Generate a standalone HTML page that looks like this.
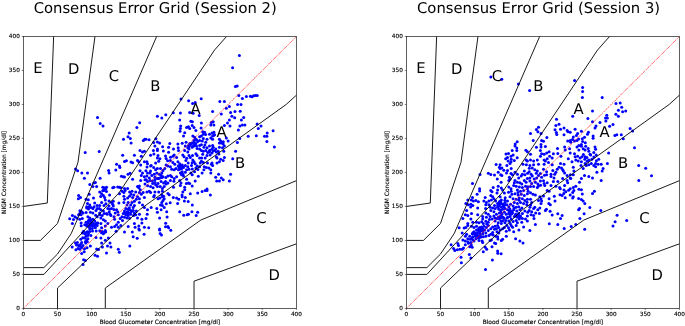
<!DOCTYPE html><html><head><meta charset="utf-8"><title>Consensus Error Grid</title>
<style>html,body{margin:0;padding:0;background:#fff}svg{display:block;will-change:transform}text{font-family:"DejaVu Sans","Liberation Sans",sans-serif;fill:#000;text-rendering:geometricPrecision}.s{stroke:#000;stroke-width:0.14px}</style></head><body>
<svg width="685" height="326" viewBox="0 0 685 326">
<rect width="685" height="326" fill="#fff"/>
<clipPath id="c0"><rect x="23.4" y="36.5" width="273.0" height="271.9"/></clipPath>
<g clip-path="url(#c0)">
<g fill="#0000ff">
<circle cx="239.4" cy="55.4" r="1.5"/>
<circle cx="232.6" cy="67.8" r="1.5"/>
<circle cx="235.4" cy="86.6" r="1.5"/>
<circle cx="237.2" cy="86.0" r="1.5"/>
<circle cx="238.8" cy="95.4" r="1.5"/>
<circle cx="242.4" cy="98.4" r="1.5"/>
<circle cx="246.4" cy="96.4" r="1.5"/>
<circle cx="250.4" cy="96.2" r="1.5"/>
<circle cx="252.0" cy="96.8" r="1.5"/>
<circle cx="253.6" cy="95.8" r="1.5"/>
<circle cx="255.4" cy="95.4" r="1.5"/>
<circle cx="257.2" cy="95.4" r="1.5"/>
<circle cx="188.6" cy="100.8" r="1.5"/>
<circle cx="192.6" cy="103.6" r="1.5"/>
<circle cx="195.2" cy="102.6" r="1.5"/>
<circle cx="201.2" cy="98.8" r="1.5"/>
<circle cx="219.8" cy="101.4" r="1.5"/>
<circle cx="224.4" cy="101.6" r="1.5"/>
<circle cx="237.6" cy="104.4" r="1.5"/>
<circle cx="241.0" cy="104.4" r="1.5"/>
<circle cx="181.0" cy="99.0" r="1.5"/>
<circle cx="72.2" cy="247.0" r="1.5"/>
<circle cx="75.5" cy="243.0" r="1.5"/>
<circle cx="77.4" cy="242.4" r="1.5"/>
<circle cx="76.5" cy="244.9" r="1.5"/>
<circle cx="78.6" cy="245.5" r="1.5"/>
<circle cx="80.5" cy="244.6" r="1.5"/>
<circle cx="75.9" cy="249.8" r="1.5"/>
<circle cx="78.0" cy="248.6" r="1.5"/>
<circle cx="79.8" cy="249.2" r="1.5"/>
<circle cx="81.7" cy="247.4" r="1.5"/>
<circle cx="83.0" cy="245.5" r="1.5"/>
<circle cx="80.8" cy="239.3" r="1.5"/>
<circle cx="81.7" cy="242.4" r="1.5"/>
<circle cx="84.8" cy="238.1" r="1.5"/>
<circle cx="86.7" cy="239.9" r="1.5"/>
<circle cx="87.9" cy="238.7" r="1.5"/>
<circle cx="85.4" cy="241.8" r="1.5"/>
<circle cx="87.3" cy="241.8" r="1.5"/>
<circle cx="82.3" cy="233.1" r="1.5"/>
<circle cx="83.6" cy="231.2" r="1.5"/>
<circle cx="86.7" cy="231.9" r="1.5"/>
<circle cx="88.5" cy="233.7" r="1.5"/>
<circle cx="89.8" cy="231.5" r="1.5"/>
<circle cx="92.5" cy="231.0" r="1.5"/>
<circle cx="96.2" cy="231.0" r="1.5"/>
<circle cx="87.9" cy="235.6" r="1.5"/>
<circle cx="86.0" cy="236.2" r="1.5"/>
<circle cx="96.0" cy="237.4" r="1.5"/>
<circle cx="100.9" cy="238.1" r="1.5"/>
<circle cx="101.6" cy="243.0" r="1.5"/>
<circle cx="105.3" cy="240.2" r="1.5"/>
<circle cx="108.4" cy="238.1" r="1.5"/>
<circle cx="110.0" cy="243.0" r="1.5"/>
<circle cx="107.5" cy="246.1" r="1.5"/>
<circle cx="110.9" cy="247.0" r="1.5"/>
<circle cx="102.4" cy="247.0" r="1.5"/>
<circle cx="90.4" cy="246.1" r="1.5"/>
<circle cx="87.0" cy="247.7" r="1.5"/>
<circle cx="84.2" cy="251.7" r="1.5"/>
<circle cx="81.7" cy="253.6" r="1.5"/>
<circle cx="96.6" cy="249.0" r="1.5"/>
<circle cx="98.5" cy="249.6" r="1.5"/>
<circle cx="95.1" cy="255.2" r="1.5"/>
<circle cx="97.5" cy="256.3" r="1.5"/>
<circle cx="106.5" cy="252.9" r="1.5"/>
<circle cx="83.6" cy="259.8" r="1.5"/>
<circle cx="85.4" cy="260.4" r="1.5"/>
<circle cx="83.0" cy="264.5" r="1.5"/>
<circle cx="102.2" cy="231.5" r="1.5"/>
<circle cx="104.0" cy="232.5" r="1.5"/>
<circle cx="105.7" cy="231.9" r="1.5"/>
<circle cx="103.4" cy="233.7" r="1.5"/>
<circle cx="105.3" cy="230.6" r="1.5"/>
<circle cx="116.1" cy="231.2" r="1.5"/>
<circle cx="124.5" cy="231.9" r="1.5"/>
<circle cx="132.3" cy="231.9" r="1.5"/>
<circle cx="133.2" cy="236.8" r="1.5"/>
<circle cx="137.2" cy="238.3" r="1.5"/>
<circle cx="144.1" cy="234.3" r="1.5"/>
<circle cx="139.4" cy="230.0" r="1.5"/>
<circle cx="129.8" cy="246.1" r="1.5"/>
<circle cx="118.3" cy="249.2" r="1.5"/>
<circle cx="119.3" cy="252.3" r="1.5"/>
<circle cx="160.1" cy="233.5" r="1.5"/>
<circle cx="161.5" cy="235.0" r="1.5"/>
<circle cx="170.8" cy="230.2" r="1.5"/>
<circle cx="159.6" cy="230.0" r="1.5"/>
<circle cx="78.6" cy="195.6" r="1.5"/>
<circle cx="80.5" cy="197.4" r="1.5"/>
<circle cx="78.4" cy="198.7" r="1.5"/>
<circle cx="89.2" cy="194.3" r="1.5"/>
<circle cx="86.0" cy="199.3" r="1.5"/>
<circle cx="88.3" cy="199.7" r="1.5"/>
<circle cx="93.5" cy="198.1" r="1.5"/>
<circle cx="86.7" cy="206.8" r="1.5"/>
<circle cx="89.8" cy="204.9" r="1.5"/>
<circle cx="91.0" cy="207.4" r="1.5"/>
<circle cx="92.9" cy="208.6" r="1.5"/>
<circle cx="94.7" cy="203.0" r="1.5"/>
<circle cx="94.1" cy="206.8" r="1.5"/>
<circle cx="86.7" cy="208.0" r="1.5"/>
<circle cx="99.7" cy="191.9" r="1.5"/>
<circle cx="101.6" cy="193.7" r="1.5"/>
<circle cx="103.4" cy="195.6" r="1.5"/>
<circle cx="104.0" cy="190.6" r="1.5"/>
<circle cx="106.5" cy="191.5" r="1.5"/>
<circle cx="109.6" cy="195.0" r="1.5"/>
<circle cx="105.3" cy="199.9" r="1.5"/>
<circle cx="109.0" cy="200.9" r="1.5"/>
<circle cx="101.6" cy="202.4" r="1.5"/>
<circle cx="99.7" cy="205.5" r="1.5"/>
<circle cx="104.0" cy="205.5" r="1.5"/>
<circle cx="105.9" cy="203.7" r="1.5"/>
<circle cx="97.2" cy="208.6" r="1.5"/>
<circle cx="96.0" cy="210.5" r="1.5"/>
<circle cx="100.9" cy="209.8" r="1.5"/>
<circle cx="103.4" cy="211.1" r="1.5"/>
<circle cx="99.7" cy="212.9" r="1.5"/>
<circle cx="92.9" cy="212.9" r="1.5"/>
<circle cx="90.4" cy="212.3" r="1.5"/>
<circle cx="81.7" cy="211.7" r="1.5"/>
<circle cx="83.0" cy="212.9" r="1.5"/>
<circle cx="79.8" cy="213.6" r="1.5"/>
<circle cx="78.6" cy="214.8" r="1.5"/>
<circle cx="81.1" cy="214.8" r="1.5"/>
<circle cx="72.4" cy="215.4" r="1.5"/>
<circle cx="74.9" cy="216.7" r="1.5"/>
<circle cx="69.7" cy="218.8" r="1.5"/>
<circle cx="76.8" cy="217.9" r="1.5"/>
<circle cx="79.8" cy="219.2" r="1.5"/>
<circle cx="82.3" cy="218.5" r="1.5"/>
<circle cx="72.4" cy="223.5" r="1.5"/>
<circle cx="81.1" cy="222.9" r="1.5"/>
<circle cx="87.9" cy="216.7" r="1.5"/>
<circle cx="89.8" cy="217.9" r="1.5"/>
<circle cx="88.5" cy="220.4" r="1.5"/>
<circle cx="91.0" cy="219.8" r="1.5"/>
<circle cx="92.9" cy="219.2" r="1.5"/>
<circle cx="94.7" cy="221.0" r="1.5"/>
<circle cx="91.6" cy="222.3" r="1.5"/>
<circle cx="93.5" cy="223.5" r="1.5"/>
<circle cx="89.8" cy="224.1" r="1.5"/>
<circle cx="87.9" cy="222.9" r="1.5"/>
<circle cx="86.0" cy="222.3" r="1.5"/>
<circle cx="84.8" cy="224.7" r="1.5"/>
<circle cx="86.7" cy="226.0" r="1.5"/>
<circle cx="89.2" cy="227.2" r="1.5"/>
<circle cx="91.6" cy="226.0" r="1.5"/>
<circle cx="94.1" cy="226.0" r="1.5"/>
<circle cx="96.0" cy="223.5" r="1.5"/>
<circle cx="97.2" cy="225.4" r="1.5"/>
<circle cx="92.3" cy="228.5" r="1.5"/>
<circle cx="89.8" cy="229.1" r="1.5"/>
<circle cx="95.4" cy="227.8" r="1.5"/>
<circle cx="97.8" cy="222.9" r="1.5"/>
<circle cx="99.7" cy="214.8" r="1.5"/>
<circle cx="102.2" cy="215.4" r="1.5"/>
<circle cx="100.9" cy="217.9" r="1.5"/>
<circle cx="97.2" cy="216.7" r="1.5"/>
<circle cx="103.4" cy="219.8" r="1.5"/>
<circle cx="105.3" cy="221.0" r="1.5"/>
<circle cx="100.9" cy="223.5" r="1.5"/>
<circle cx="107.2" cy="214.2" r="1.5"/>
<circle cx="110.2" cy="214.2" r="1.5"/>
<circle cx="110.9" cy="215.4" r="1.5"/>
<circle cx="106.5" cy="213.6" r="1.5"/>
<circle cx="107.8" cy="208.6" r="1.5"/>
<circle cx="109.6" cy="209.2" r="1.5"/>
<circle cx="111.5" cy="208.6" r="1.5"/>
<circle cx="113.3" cy="206.1" r="1.5"/>
<circle cx="112.7" cy="204.3" r="1.5"/>
<circle cx="111.5" cy="202.4" r="1.5"/>
<circle cx="113.3" cy="201.2" r="1.5"/>
<circle cx="109.0" cy="206.1" r="1.5"/>
<circle cx="118.9" cy="203.0" r="1.5"/>
<circle cx="116.5" cy="209.8" r="1.5"/>
<circle cx="117.7" cy="211.7" r="1.5"/>
<circle cx="115.2" cy="212.9" r="1.5"/>
<circle cx="118.3" cy="214.8" r="1.5"/>
<circle cx="114.6" cy="219.2" r="1.5"/>
<circle cx="114.0" cy="216.7" r="1.5"/>
<circle cx="119.5" cy="193.7" r="1.5"/>
<circle cx="122.0" cy="191.2" r="1.5"/>
<circle cx="123.9" cy="192.5" r="1.5"/>
<circle cx="125.1" cy="190.6" r="1.5"/>
<circle cx="123.9" cy="196.2" r="1.5"/>
<circle cx="124.5" cy="199.3" r="1.5"/>
<circle cx="127.6" cy="198.1" r="1.5"/>
<circle cx="129.5" cy="196.2" r="1.5"/>
<circle cx="123.9" cy="202.4" r="1.5"/>
<circle cx="128.2" cy="202.4" r="1.5"/>
<circle cx="127.0" cy="204.9" r="1.5"/>
<circle cx="132.0" cy="191.2" r="1.5"/>
<circle cx="133.8" cy="195.0" r="1.5"/>
<circle cx="132.6" cy="197.4" r="1.5"/>
<circle cx="135.7" cy="191.9" r="1.5"/>
<circle cx="137.5" cy="196.8" r="1.5"/>
<circle cx="139.4" cy="198.7" r="1.5"/>
<circle cx="141.3" cy="194.3" r="1.5"/>
<circle cx="143.1" cy="192.5" r="1.5"/>
<circle cx="144.4" cy="197.4" r="1.5"/>
<circle cx="136.3" cy="199.3" r="1.5"/>
<circle cx="134.4" cy="201.2" r="1.5"/>
<circle cx="132.0" cy="202.4" r="1.5"/>
<circle cx="130.7" cy="204.9" r="1.5"/>
<circle cx="134.4" cy="205.5" r="1.5"/>
<circle cx="133.2" cy="207.4" r="1.5"/>
<circle cx="139.4" cy="202.4" r="1.5"/>
<circle cx="142.5" cy="204.9" r="1.5"/>
<circle cx="144.4" cy="207.4" r="1.5"/>
<circle cx="125.8" cy="208.6" r="1.5"/>
<circle cx="127.6" cy="209.2" r="1.5"/>
<circle cx="129.5" cy="209.8" r="1.5"/>
<circle cx="124.5" cy="211.1" r="1.5"/>
<circle cx="127.0" cy="212.3" r="1.5"/>
<circle cx="128.9" cy="212.9" r="1.5"/>
<circle cx="131.3" cy="211.7" r="1.5"/>
<circle cx="133.2" cy="210.5" r="1.5"/>
<circle cx="123.3" cy="213.6" r="1.5"/>
<circle cx="125.8" cy="214.8" r="1.5"/>
<circle cx="128.2" cy="215.4" r="1.5"/>
<circle cx="130.7" cy="214.2" r="1.5"/>
<circle cx="122.0" cy="216.7" r="1.5"/>
<circle cx="124.5" cy="217.3" r="1.5"/>
<circle cx="127.0" cy="217.9" r="1.5"/>
<circle cx="120.2" cy="218.5" r="1.5"/>
<circle cx="134.4" cy="212.9" r="1.5"/>
<circle cx="136.3" cy="211.1" r="1.5"/>
<circle cx="135.7" cy="214.8" r="1.5"/>
<circle cx="139.4" cy="214.2" r="1.5"/>
<circle cx="141.9" cy="219.2" r="1.5"/>
<circle cx="137.5" cy="217.9" r="1.5"/>
<circle cx="134.4" cy="223.5" r="1.5"/>
<circle cx="128.2" cy="226.6" r="1.5"/>
<circle cx="135.1" cy="227.2" r="1.5"/>
<circle cx="138.8" cy="226.0" r="1.5"/>
<circle cx="141.9" cy="222.9" r="1.5"/>
<circle cx="144.4" cy="227.2" r="1.5"/>
<circle cx="138.8" cy="229.1" r="1.5"/>
<circle cx="118.3" cy="222.3" r="1.5"/>
<circle cx="116.5" cy="224.7" r="1.5"/>
<circle cx="114.6" cy="226.6" r="1.5"/>
<circle cx="111.5" cy="227.2" r="1.5"/>
<circle cx="105.3" cy="226.0" r="1.5"/>
<circle cx="101.6" cy="227.8" r="1.5"/>
<circle cx="107.8" cy="223.5" r="1.5"/>
<circle cx="120.8" cy="225.4" r="1.5"/>
<circle cx="118.3" cy="227.2" r="1.5"/>
<circle cx="146.9" cy="191.9" r="1.5"/>
<circle cx="149.3" cy="191.2" r="1.5"/>
<circle cx="150.6" cy="192.5" r="1.5"/>
<circle cx="154.9" cy="191.9" r="1.5"/>
<circle cx="158.7" cy="191.9" r="1.5"/>
<circle cx="162.4" cy="191.2" r="1.5"/>
<circle cx="154.3" cy="195.6" r="1.5"/>
<circle cx="153.7" cy="196.8" r="1.5"/>
<circle cx="158.0" cy="198.7" r="1.5"/>
<circle cx="159.9" cy="198.1" r="1.5"/>
<circle cx="162.4" cy="196.8" r="1.5"/>
<circle cx="163.6" cy="196.2" r="1.5"/>
<circle cx="164.2" cy="198.7" r="1.5"/>
<circle cx="163.0" cy="200.6" r="1.5"/>
<circle cx="161.8" cy="202.4" r="1.5"/>
<circle cx="160.5" cy="204.9" r="1.5"/>
<circle cx="162.4" cy="205.5" r="1.5"/>
<circle cx="164.2" cy="207.4" r="1.5"/>
<circle cx="161.1" cy="209.8" r="1.5"/>
<circle cx="156.8" cy="208.4" r="1.5"/>
<circle cx="157.4" cy="212.3" r="1.5"/>
<circle cx="151.2" cy="207.4" r="1.5"/>
<circle cx="147.5" cy="209.8" r="1.5"/>
<circle cx="147.2" cy="214.2" r="1.5"/>
<circle cx="146.0" cy="218.5" r="1.5"/>
<circle cx="159.6" cy="217.9" r="1.5"/>
<circle cx="167.9" cy="193.5" r="1.5"/>
<circle cx="169.2" cy="194.7" r="1.5"/>
<circle cx="173.3" cy="197.4" r="1.5"/>
<circle cx="176.6" cy="198.1" r="1.5"/>
<circle cx="178.8" cy="199.3" r="1.5"/>
<circle cx="170.2" cy="202.8" r="1.5"/>
<circle cx="166.3" cy="203.7" r="1.5"/>
<circle cx="177.6" cy="203.4" r="1.5"/>
<circle cx="166.7" cy="211.7" r="1.5"/>
<circle cx="167.1" cy="217.1" r="1.5"/>
<circle cx="182.8" cy="191.9" r="1.5"/>
<circle cx="182.0" cy="195.0" r="1.5"/>
<circle cx="182.2" cy="196.8" r="1.5"/>
<circle cx="185.3" cy="197.4" r="1.5"/>
<circle cx="190.3" cy="193.7" r="1.5"/>
<circle cx="184.4" cy="200.9" r="1.5"/>
<circle cx="188.2" cy="201.5" r="1.5"/>
<circle cx="192.3" cy="204.9" r="1.5"/>
<circle cx="197.7" cy="193.1" r="1.5"/>
<circle cx="202.1" cy="191.5" r="1.5"/>
<circle cx="205.2" cy="190.6" r="1.5"/>
<circle cx="207.0" cy="190.6" r="1.5"/>
<circle cx="210.4" cy="195.0" r="1.5"/>
<circle cx="179.7" cy="211.7" r="1.5"/>
<circle cx="183.8" cy="215.2" r="1.5"/>
<circle cx="187.2" cy="214.8" r="1.5"/>
<circle cx="188.4" cy="214.2" r="1.5"/>
<circle cx="191.9" cy="211.7" r="1.5"/>
<circle cx="197.7" cy="212.3" r="1.5"/>
<circle cx="196.2" cy="215.4" r="1.5"/>
<circle cx="165.7" cy="223.2" r="1.5"/>
<circle cx="165.5" cy="226.8" r="1.5"/>
<circle cx="167.9" cy="226.6" r="1.5"/>
<circle cx="168.6" cy="227.8" r="1.5"/>
<circle cx="148.7" cy="227.8" r="1.5"/>
<circle cx="159.6" cy="229.1" r="1.5"/>
<circle cx="85.2" cy="152.5" r="1.5"/>
<circle cx="99.2" cy="151.5" r="1.5"/>
<circle cx="75.5" cy="168.9" r="1.5"/>
<circle cx="77.6" cy="170.8" r="1.5"/>
<circle cx="81.8" cy="172.9" r="1.5"/>
<circle cx="87.5" cy="172.9" r="1.5"/>
<circle cx="84.4" cy="178.3" r="1.5"/>
<circle cx="100.1" cy="178.3" r="1.5"/>
<circle cx="89.8" cy="184.4" r="1.5"/>
<circle cx="93.8" cy="182.9" r="1.5"/>
<circle cx="95.4" cy="182.5" r="1.5"/>
<circle cx="92.9" cy="186.6" r="1.5"/>
<circle cx="96.6" cy="186.6" r="1.5"/>
<circle cx="102.8" cy="187.2" r="1.5"/>
<circle cx="104.7" cy="187.8" r="1.5"/>
<circle cx="106.5" cy="187.2" r="1.5"/>
<circle cx="104.0" cy="189.4" r="1.5"/>
<circle cx="108.6" cy="170.5" r="1.5"/>
<circle cx="109.1" cy="172.9" r="1.5"/>
<circle cx="115.8" cy="170.1" r="1.5"/>
<circle cx="116.6" cy="164.3" r="1.5"/>
<circle cx="119.5" cy="165.9" r="1.5"/>
<circle cx="119.9" cy="167.6" r="1.5"/>
<circle cx="122.7" cy="155.3" r="1.5"/>
<circle cx="124.5" cy="161.5" r="1.5"/>
<circle cx="126.4" cy="160.8" r="1.5"/>
<circle cx="131.0" cy="162.0" r="1.5"/>
<circle cx="132.6" cy="162.8" r="1.5"/>
<circle cx="134.4" cy="155.3" r="1.5"/>
<circle cx="137.5" cy="160.6" r="1.5"/>
<circle cx="138.8" cy="161.8" r="1.5"/>
<circle cx="140.7" cy="164.9" r="1.5"/>
<circle cx="141.3" cy="156.2" r="1.5"/>
<circle cx="142.5" cy="151.9" r="1.5"/>
<circle cx="144.4" cy="151.2" r="1.5"/>
<circle cx="144.4" cy="161.8" r="1.5"/>
<circle cx="140.0" cy="150.6" r="1.5"/>
<circle cx="121.4" cy="176.3" r="1.5"/>
<circle cx="123.3" cy="176.7" r="1.5"/>
<circle cx="124.5" cy="177.1" r="1.5"/>
<circle cx="128.0" cy="174.2" r="1.5"/>
<circle cx="130.1" cy="173.3" r="1.5"/>
<circle cx="132.6" cy="179.2" r="1.5"/>
<circle cx="140.0" cy="170.8" r="1.5"/>
<circle cx="142.5" cy="172.9" r="1.5"/>
<circle cx="141.3" cy="175.4" r="1.5"/>
<circle cx="144.4" cy="176.7" r="1.5"/>
<circle cx="140.7" cy="180.4" r="1.5"/>
<circle cx="145.0" cy="179.8" r="1.5"/>
<circle cx="112.7" cy="187.8" r="1.5"/>
<circle cx="114.0" cy="187.2" r="1.5"/>
<circle cx="117.7" cy="187.0" r="1.5"/>
<circle cx="119.5" cy="187.2" r="1.5"/>
<circle cx="120.8" cy="187.8" r="1.5"/>
<circle cx="124.5" cy="188.5" r="1.5"/>
<circle cx="127.6" cy="188.5" r="1.5"/>
<circle cx="137.5" cy="186.6" r="1.5"/>
<circle cx="139.4" cy="186.0" r="1.5"/>
<circle cx="138.8" cy="187.8" r="1.5"/>
<circle cx="150.6" cy="155.2" r="1.5"/>
<circle cx="153.9" cy="154.0" r="1.5"/>
<circle cx="158.0" cy="155.6" r="1.5"/>
<circle cx="157.4" cy="158.1" r="1.5"/>
<circle cx="159.9" cy="158.7" r="1.5"/>
<circle cx="158.7" cy="161.2" r="1.5"/>
<circle cx="155.6" cy="163.0" r="1.5"/>
<circle cx="151.2" cy="165.5" r="1.5"/>
<circle cx="146.9" cy="161.8" r="1.5"/>
<circle cx="147.5" cy="163.7" r="1.5"/>
<circle cx="150.6" cy="166.1" r="1.5"/>
<circle cx="157.4" cy="150.6" r="1.5"/>
<circle cx="163.4" cy="151.0" r="1.5"/>
<circle cx="168.6" cy="152.2" r="1.5"/>
<circle cx="165.5" cy="156.0" r="1.5"/>
<circle cx="166.1" cy="158.4" r="1.5"/>
<circle cx="174.2" cy="155.0" r="1.5"/>
<circle cx="172.9" cy="156.2" r="1.5"/>
<circle cx="178.5" cy="150.6" r="1.5"/>
<circle cx="176.6" cy="157.4" r="1.5"/>
<circle cx="170.4" cy="160.6" r="1.5"/>
<circle cx="172.9" cy="162.4" r="1.5"/>
<circle cx="174.8" cy="164.3" r="1.5"/>
<circle cx="177.9" cy="161.8" r="1.5"/>
<circle cx="179.7" cy="163.7" r="1.5"/>
<circle cx="184.7" cy="150.6" r="1.5"/>
<circle cx="187.8" cy="151.9" r="1.5"/>
<circle cx="182.8" cy="155.0" r="1.5"/>
<circle cx="184.1" cy="156.8" r="1.5"/>
<circle cx="185.9" cy="160.6" r="1.5"/>
<circle cx="189.0" cy="155.6" r="1.5"/>
<circle cx="190.3" cy="157.4" r="1.5"/>
<circle cx="192.8" cy="159.9" r="1.5"/>
<circle cx="194.0" cy="161.8" r="1.5"/>
<circle cx="195.9" cy="153.7" r="1.5"/>
<circle cx="197.1" cy="155.6" r="1.5"/>
<circle cx="199.6" cy="158.1" r="1.5"/>
<circle cx="195.2" cy="163.7" r="1.5"/>
<circle cx="191.5" cy="165.5" r="1.5"/>
<circle cx="201.4" cy="150.6" r="1.5"/>
<circle cx="203.3" cy="151.2" r="1.5"/>
<circle cx="205.8" cy="150.6" r="1.5"/>
<circle cx="202.7" cy="154.3" r="1.5"/>
<circle cx="205.2" cy="158.1" r="1.5"/>
<circle cx="207.0" cy="155.6" r="1.5"/>
<circle cx="207.7" cy="152.5" r="1.5"/>
<circle cx="209.5" cy="151.9" r="1.5"/>
<circle cx="210.1" cy="155.0" r="1.5"/>
<circle cx="212.0" cy="153.1" r="1.5"/>
<circle cx="214.5" cy="150.6" r="1.5"/>
<circle cx="216.3" cy="151.9" r="1.5"/>
<circle cx="218.2" cy="151.2" r="1.5"/>
<circle cx="201.4" cy="161.2" r="1.5"/>
<circle cx="200.2" cy="163.0" r="1.5"/>
<circle cx="203.3" cy="162.4" r="1.5"/>
<circle cx="197.1" cy="166.1" r="1.5"/>
<circle cx="199.6" cy="166.8" r="1.5"/>
<circle cx="195.9" cy="168.0" r="1.5"/>
<circle cx="182.2" cy="164.9" r="1.5"/>
<circle cx="185.3" cy="165.5" r="1.5"/>
<circle cx="187.8" cy="166.8" r="1.5"/>
<circle cx="189.0" cy="169.2" r="1.5"/>
<circle cx="186.6" cy="169.8" r="1.5"/>
<circle cx="183.5" cy="167.4" r="1.5"/>
<circle cx="181.6" cy="168.6" r="1.5"/>
<circle cx="179.7" cy="168.0" r="1.5"/>
<circle cx="182.2" cy="171.7" r="1.5"/>
<circle cx="180.4" cy="172.9" r="1.5"/>
<circle cx="181.6" cy="174.8" r="1.5"/>
<circle cx="182.8" cy="174.2" r="1.5"/>
<circle cx="183.5" cy="176.1" r="1.5"/>
<circle cx="178.5" cy="169.8" r="1.5"/>
<circle cx="176.0" cy="168.6" r="1.5"/>
<circle cx="174.2" cy="169.8" r="1.5"/>
<circle cx="171.7" cy="169.2" r="1.5"/>
<circle cx="166.1" cy="164.9" r="1.5"/>
<circle cx="167.9" cy="166.1" r="1.5"/>
<circle cx="170.4" cy="166.8" r="1.5"/>
<circle cx="164.8" cy="168.6" r="1.5"/>
<circle cx="163.0" cy="170.5" r="1.5"/>
<circle cx="153.7" cy="167.4" r="1.5"/>
<circle cx="155.6" cy="169.8" r="1.5"/>
<circle cx="157.4" cy="168.6" r="1.5"/>
<circle cx="147.5" cy="172.9" r="1.5"/>
<circle cx="150.0" cy="172.9" r="1.5"/>
<circle cx="146.9" cy="176.1" r="1.5"/>
<circle cx="149.3" cy="177.9" r="1.5"/>
<circle cx="151.8" cy="175.4" r="1.5"/>
<circle cx="154.3" cy="174.2" r="1.5"/>
<circle cx="156.8" cy="172.9" r="1.5"/>
<circle cx="159.3" cy="174.2" r="1.5"/>
<circle cx="161.8" cy="172.9" r="1.5"/>
<circle cx="161.1" cy="175.4" r="1.5"/>
<circle cx="163.0" cy="176.7" r="1.5"/>
<circle cx="159.9" cy="177.9" r="1.5"/>
<circle cx="157.4" cy="178.5" r="1.5"/>
<circle cx="154.9" cy="179.8" r="1.5"/>
<circle cx="152.4" cy="181.0" r="1.5"/>
<circle cx="150.0" cy="180.4" r="1.5"/>
<circle cx="147.5" cy="181.6" r="1.5"/>
<circle cx="146.2" cy="179.8" r="1.5"/>
<circle cx="167.9" cy="176.1" r="1.5"/>
<circle cx="170.4" cy="175.4" r="1.5"/>
<circle cx="171.7" cy="176.7" r="1.5"/>
<circle cx="176.6" cy="176.7" r="1.5"/>
<circle cx="174.2" cy="178.5" r="1.5"/>
<circle cx="170.4" cy="180.4" r="1.5"/>
<circle cx="167.9" cy="182.9" r="1.5"/>
<circle cx="165.5" cy="181.6" r="1.5"/>
<circle cx="163.6" cy="182.9" r="1.5"/>
<circle cx="161.1" cy="181.6" r="1.5"/>
<circle cx="158.0" cy="183.5" r="1.5"/>
<circle cx="155.6" cy="184.7" r="1.5"/>
<circle cx="157.4" cy="186.6" r="1.5"/>
<circle cx="150.6" cy="186.6" r="1.5"/>
<circle cx="153.1" cy="187.8" r="1.5"/>
<circle cx="162.4" cy="188.5" r="1.5"/>
<circle cx="166.1" cy="184.1" r="1.5"/>
<circle cx="164.2" cy="186.6" r="1.5"/>
<circle cx="179.7" cy="180.4" r="1.5"/>
<circle cx="181.0" cy="182.9" r="1.5"/>
<circle cx="180.4" cy="185.4" r="1.5"/>
<circle cx="184.7" cy="187.2" r="1.5"/>
<circle cx="186.6" cy="179.2" r="1.5"/>
<circle cx="188.4" cy="182.9" r="1.5"/>
<circle cx="189.7" cy="183.5" r="1.5"/>
<circle cx="192.2" cy="186.0" r="1.5"/>
<circle cx="195.2" cy="181.0" r="1.5"/>
<circle cx="198.3" cy="176.3" r="1.5"/>
<circle cx="192.2" cy="174.8" r="1.5"/>
<circle cx="190.9" cy="172.9" r="1.5"/>
<circle cx="194.6" cy="171.7" r="1.5"/>
<circle cx="202.1" cy="172.9" r="1.5"/>
<circle cx="203.9" cy="169.8" r="1.5"/>
<circle cx="206.4" cy="167.4" r="1.5"/>
<circle cx="208.9" cy="168.0" r="1.5"/>
<circle cx="210.8" cy="169.8" r="1.5"/>
<circle cx="210.8" cy="172.9" r="1.5"/>
<circle cx="212.6" cy="165.5" r="1.5"/>
<circle cx="212.0" cy="163.0" r="1.5"/>
<circle cx="211.4" cy="164.3" r="1.5"/>
<circle cx="216.3" cy="156.8" r="1.5"/>
<circle cx="217.0" cy="158.1" r="1.5"/>
<circle cx="219.4" cy="161.8" r="1.5"/>
<circle cx="220.7" cy="159.3" r="1.5"/>
<circle cx="223.2" cy="160.6" r="1.5"/>
<circle cx="224.4" cy="157.4" r="1.5"/>
<circle cx="223.8" cy="151.2" r="1.5"/>
<circle cx="217.0" cy="163.0" r="1.5"/>
<circle cx="218.6" cy="174.2" r="1.5"/>
<circle cx="215.7" cy="177.3" r="1.5"/>
<circle cx="221.3" cy="177.9" r="1.5"/>
<circle cx="216.7" cy="181.0" r="1.5"/>
<circle cx="219.4" cy="181.0" r="1.5"/>
<circle cx="223.2" cy="179.8" r="1.5"/>
<circle cx="229.4" cy="181.0" r="1.5"/>
<circle cx="207.0" cy="189.1" r="1.5"/>
<circle cx="173.5" cy="187.2" r="1.5"/>
<circle cx="184.7" cy="189.7" r="1.5"/>
<circle cx="235.6" cy="151.2" r="1.5"/>
<circle cx="232.7" cy="158.7" r="1.5"/>
<circle cx="230.6" cy="174.2" r="1.5"/>
<circle cx="97.5" cy="117.4" r="1.5"/>
<circle cx="100.2" cy="123.4" r="1.5"/>
<circle cx="103.0" cy="126.1" r="1.5"/>
<circle cx="139.7" cy="122.7" r="1.5"/>
<circle cx="136.9" cy="127.4" r="1.5"/>
<circle cx="129.2" cy="132.9" r="1.5"/>
<circle cx="128.0" cy="136.7" r="1.5"/>
<circle cx="130.3" cy="138.5" r="1.5"/>
<circle cx="123.5" cy="139.2" r="1.5"/>
<circle cx="131.1" cy="143.1" r="1.5"/>
<circle cx="143.4" cy="140.4" r="1.5"/>
<circle cx="144.6" cy="139.2" r="1.5"/>
<circle cx="157.4" cy="116.2" r="1.5"/>
<circle cx="161.8" cy="118.1" r="1.5"/>
<circle cx="165.8" cy="114.7" r="1.5"/>
<circle cx="173.3" cy="112.7" r="1.5"/>
<circle cx="180.4" cy="113.1" r="1.5"/>
<circle cx="179.7" cy="119.9" r="1.5"/>
<circle cx="180.7" cy="126.1" r="1.5"/>
<circle cx="180.4" cy="128.6" r="1.5"/>
<circle cx="180.0" cy="131.3" r="1.5"/>
<circle cx="184.7" cy="132.7" r="1.5"/>
<circle cx="183.5" cy="136.1" r="1.5"/>
<circle cx="186.6" cy="127.4" r="1.5"/>
<circle cx="188.4" cy="126.8" r="1.5"/>
<circle cx="189.7" cy="128.4" r="1.5"/>
<circle cx="190.9" cy="121.2" r="1.5"/>
<circle cx="192.4" cy="121.8" r="1.5"/>
<circle cx="192.2" cy="125.5" r="1.5"/>
<circle cx="194.0" cy="127.4" r="1.5"/>
<circle cx="195.9" cy="130.5" r="1.5"/>
<circle cx="189.7" cy="112.5" r="1.5"/>
<circle cx="193.1" cy="113.2" r="1.5"/>
<circle cx="199.2" cy="115.6" r="1.5"/>
<circle cx="201.4" cy="123.0" r="1.5"/>
<circle cx="201.1" cy="128.0" r="1.5"/>
<circle cx="202.7" cy="131.7" r="1.5"/>
<circle cx="204.6" cy="132.3" r="1.5"/>
<circle cx="203.3" cy="134.2" r="1.5"/>
<circle cx="201.4" cy="136.1" r="1.5"/>
<circle cx="199.6" cy="136.7" r="1.5"/>
<circle cx="212.6" cy="111.5" r="1.5"/>
<circle cx="221.3" cy="114.0" r="1.5"/>
<circle cx="211.4" cy="122.4" r="1.5"/>
<circle cx="213.2" cy="121.8" r="1.5"/>
<circle cx="210.8" cy="124.9" r="1.5"/>
<circle cx="213.9" cy="124.9" r="1.5"/>
<circle cx="224.4" cy="125.5" r="1.5"/>
<circle cx="227.5" cy="123.0" r="1.5"/>
<circle cx="229.4" cy="119.9" r="1.5"/>
<circle cx="230.0" cy="126.1" r="1.5"/>
<circle cx="209.5" cy="134.2" r="1.5"/>
<circle cx="212.0" cy="132.9" r="1.5"/>
<circle cx="213.9" cy="132.3" r="1.5"/>
<circle cx="214.5" cy="134.8" r="1.5"/>
<circle cx="212.6" cy="136.1" r="1.5"/>
<circle cx="210.8" cy="137.9" r="1.5"/>
<circle cx="212.6" cy="139.2" r="1.5"/>
<circle cx="207.0" cy="139.2" r="1.5"/>
<circle cx="205.8" cy="142.3" r="1.5"/>
<circle cx="203.3" cy="138.5" r="1.5"/>
<circle cx="219.4" cy="139.2" r="1.5"/>
<circle cx="220.7" cy="141.0" r="1.5"/>
<circle cx="221.3" cy="142.9" r="1.5"/>
<circle cx="223.2" cy="144.1" r="1.5"/>
<circle cx="224.4" cy="146.0" r="1.5"/>
<circle cx="219.4" cy="142.9" r="1.5"/>
<circle cx="226.3" cy="137.9" r="1.5"/>
<circle cx="228.1" cy="141.0" r="1.5"/>
<circle cx="192.8" cy="136.1" r="1.5"/>
<circle cx="194.6" cy="137.3" r="1.5"/>
<circle cx="196.5" cy="139.8" r="1.5"/>
<circle cx="194.0" cy="140.4" r="1.5"/>
<circle cx="192.2" cy="142.9" r="1.5"/>
<circle cx="194.0" cy="144.1" r="1.5"/>
<circle cx="195.9" cy="143.5" r="1.5"/>
<circle cx="197.7" cy="141.6" r="1.5"/>
<circle cx="199.6" cy="140.4" r="1.5"/>
<circle cx="201.4" cy="144.7" r="1.5"/>
<circle cx="199.6" cy="145.4" r="1.5"/>
<circle cx="196.5" cy="146.0" r="1.5"/>
<circle cx="193.4" cy="146.0" r="1.5"/>
<circle cx="190.9" cy="144.1" r="1.5"/>
<circle cx="189.0" cy="146.6" r="1.5"/>
<circle cx="187.8" cy="147.8" r="1.5"/>
<circle cx="185.3" cy="146.0" r="1.5"/>
<circle cx="182.2" cy="143.2" r="1.5"/>
<circle cx="177.9" cy="144.1" r="1.5"/>
<circle cx="178.2" cy="147.8" r="1.5"/>
<circle cx="146.0" cy="139.2" r="1.5"/>
<circle cx="149.0" cy="139.8" r="1.5"/>
<circle cx="155.9" cy="138.8" r="1.5"/>
<circle cx="157.4" cy="142.0" r="1.5"/>
<circle cx="159.6" cy="143.1" r="1.5"/>
<circle cx="153.7" cy="142.5" r="1.5"/>
<circle cx="154.9" cy="146.0" r="1.5"/>
<circle cx="162.6" cy="146.8" r="1.5"/>
<circle cx="168.6" cy="147.2" r="1.5"/>
<circle cx="169.8" cy="143.5" r="1.5"/>
<circle cx="157.4" cy="149.1" r="1.5"/>
<circle cx="173.5" cy="149.1" r="1.5"/>
<circle cx="209.5" cy="146.0" r="1.5"/>
<circle cx="212.6" cy="145.4" r="1.5"/>
<circle cx="213.2" cy="147.2" r="1.5"/>
<circle cx="207.0" cy="147.8" r="1.5"/>
<circle cx="203.9" cy="147.2" r="1.5"/>
<circle cx="199.6" cy="149.1" r="1.5"/>
<circle cx="197.1" cy="148.5" r="1.5"/>
<circle cx="189.0" cy="149.1" r="1.5"/>
<circle cx="192.2" cy="147.2" r="1.5"/>
<circle cx="219.4" cy="147.2" r="1.5"/>
<circle cx="222.5" cy="147.8" r="1.5"/>
<circle cx="212.0" cy="149.1" r="1.5"/>
<circle cx="230.6" cy="112.5" r="1.5"/>
<circle cx="235.0" cy="111.5" r="1.5"/>
<circle cx="240.2" cy="111.2" r="1.5"/>
<circle cx="231.9" cy="116.2" r="1.5"/>
<circle cx="234.7" cy="117.7" r="1.5"/>
<circle cx="243.7" cy="117.4" r="1.5"/>
<circle cx="241.4" cy="119.9" r="1.5"/>
<circle cx="239.9" cy="125.9" r="1.5"/>
<circle cx="242.4" cy="124.9" r="1.5"/>
<circle cx="244.9" cy="124.9" r="1.5"/>
<circle cx="238.4" cy="130.1" r="1.5"/>
<circle cx="257.1" cy="124.0" r="1.5"/>
<circle cx="261.0" cy="125.9" r="1.5"/>
<circle cx="258.3" cy="128.4" r="1.5"/>
<circle cx="273.1" cy="130.8" r="1.5"/>
<circle cx="267.2" cy="132.9" r="1.5"/>
<circle cx="248.2" cy="136.3" r="1.5"/>
<circle cx="256.3" cy="135.7" r="1.5"/>
<circle cx="264.5" cy="136.3" r="1.5"/>
<circle cx="266.9" cy="136.3" r="1.5"/>
<circle cx="239.7" cy="138.5" r="1.5"/>
<circle cx="237.4" cy="142.5" r="1.5"/>
<circle cx="266.9" cy="141.6" r="1.5"/>
<circle cx="274.4" cy="147.0" r="1.5"/>
<circle cx="226.3" cy="108.2" r="1.5"/>
<circle cx="229.4" cy="106.6" r="1.5"/>
<circle cx="109.2" cy="211.9" r="1.5"/>
<circle cx="129.6" cy="191.9" r="1.5"/>
<circle cx="152.7" cy="183.5" r="1.5"/>
<circle cx="104.6" cy="197.4" r="1.5"/>
<circle cx="204.2" cy="166.8" r="1.5"/>
<circle cx="122.5" cy="220.4" r="1.5"/>
<circle cx="192.5" cy="155.6" r="1.5"/>
<circle cx="192.2" cy="162.8" r="1.5"/>
<circle cx="204.9" cy="145.0" r="1.5"/>
<circle cx="88.5" cy="208.9" r="1.5"/>
<circle cx="205.6" cy="134.6" r="1.5"/>
<circle cx="160.5" cy="168.6" r="1.5"/>
<circle cx="95.7" cy="215.2" r="1.5"/>
<circle cx="97.1" cy="205.5" r="1.5"/>
<circle cx="84.5" cy="248.7" r="1.5"/>
<circle cx="161.7" cy="194.8" r="1.5"/>
<circle cx="100.7" cy="196.4" r="1.5"/>
<circle cx="185.3" cy="172.2" r="1.5"/>
<circle cx="170.5" cy="157.3" r="1.5"/>
<circle cx="84.6" cy="233.4" r="1.5"/>
<circle cx="150.5" cy="170.9" r="1.5"/>
<circle cx="131.1" cy="194.2" r="1.5"/>
<circle cx="188.2" cy="162.9" r="1.5"/>
<circle cx="145.0" cy="184.0" r="1.5"/>
<circle cx="113.9" cy="209.6" r="1.5"/>
<circle cx="139.4" cy="192.5" r="1.5"/>
<circle cx="197.9" cy="169.4" r="1.5"/>
<circle cx="173.9" cy="181.2" r="1.5"/>
<circle cx="81.2" cy="225.8" r="1.5"/>
<circle cx="154.9" cy="177.2" r="1.5"/>
<circle cx="145.9" cy="170.8" r="1.5"/>
<circle cx="192.3" cy="168.9" r="1.5"/>
<circle cx="186.4" cy="183.6" r="1.5"/>
<circle cx="86.1" cy="212.5" r="1.5"/>
<circle cx="140.3" cy="189.8" r="1.5"/>
<circle cx="207.5" cy="163.0" r="1.5"/>
<circle cx="79.9" cy="210.7" r="1.5"/>
<circle cx="186.8" cy="158.2" r="1.5"/>
<circle cx="218.9" cy="154.1" r="1.5"/>
<circle cx="186.1" cy="142.3" r="1.5"/>
<circle cx="99.8" cy="230.8" r="1.5"/>
<circle cx="99.2" cy="208.4" r="1.5"/>
<circle cx="201.7" cy="158.1" r="1.5"/>
<circle cx="104.2" cy="213.6" r="1.5"/>
<circle cx="147.6" cy="185.8" r="1.5"/>
<circle cx="153.4" cy="150.6" r="1.5"/>
<circle cx="90.9" cy="235.6" r="1.5"/>
<circle cx="165.9" cy="177.6" r="1.5"/>
<circle cx="129.6" cy="218.2" r="1.5"/>
<circle cx="147.0" cy="167.1" r="1.5"/>
<circle cx="178.2" cy="166.1" r="1.5"/>
<circle cx="89.0" cy="206.9" r="1.5"/>
<circle cx="160.2" cy="186.6" r="1.5"/>
<circle cx="167.6" cy="160.8" r="1.5"/>
<circle cx="202.3" cy="141.0" r="1.5"/>
<circle cx="180.2" cy="165.9" r="1.5"/>
<circle cx="73.5" cy="219.6" r="1.5"/>
<circle cx="133.6" cy="215.4" r="1.5"/>
<circle cx="155.0" cy="182.6" r="1.5"/>
<circle cx="87.5" cy="203.6" r="1.5"/>
<circle cx="101.5" cy="232.7" r="1.5"/>
<circle cx="89.4" cy="219.7" r="1.5"/>
<circle cx="91.5" cy="225.3" r="1.5"/>
<circle cx="194.1" cy="141.7" r="1.5"/>
<circle cx="209.7" cy="150.3" r="1.5"/>
<circle cx="210.0" cy="150.5" r="1.5"/>
<circle cx="91.8" cy="223.6" r="1.5"/>
<circle cx="85.5" cy="234.0" r="1.5"/>
<circle cx="223.3" cy="141.7" r="1.5"/>
<circle cx="215.8" cy="148.9" r="1.5"/>
<circle cx="105.8" cy="189.1" r="1.5"/>
<circle cx="82.8" cy="237.8" r="1.5"/>
<circle cx="89.6" cy="220.5" r="1.5"/>
<circle cx="89.8" cy="225.3" r="1.5"/>
<circle cx="179.2" cy="166.7" r="1.5"/>
<circle cx="158.6" cy="178.6" r="1.5"/>
<circle cx="87.8" cy="231.8" r="1.5"/>
<circle cx="124.5" cy="213.1" r="1.5"/>
<circle cx="93.4" cy="224.9" r="1.5"/>
<circle cx="79.8" cy="246.2" r="1.5"/>
<circle cx="86.2" cy="241.1" r="1.5"/>
<circle cx="182.5" cy="166.2" r="1.5"/>
<circle cx="189.8" cy="143.4" r="1.5"/>
<circle cx="95.3" cy="225.0" r="1.5"/>
<circle cx="126.6" cy="213.8" r="1.5"/>
<circle cx="190.1" cy="145.3" r="1.5"/>
<circle cx="213.9" cy="135.3" r="1.5"/>
<circle cx="102.7" cy="190.8" r="1.5"/>
<circle cx="85.7" cy="242.9" r="1.5"/>
<circle cx="162.0" cy="177.6" r="1.5"/>
<circle cx="131.6" cy="210.7" r="1.5"/>
<circle cx="129.3" cy="207.8" r="1.5"/>
<circle cx="180.3" cy="169.0" r="1.5"/>
<circle cx="195.5" cy="139.0" r="1.5"/>
<circle cx="86.8" cy="224.8" r="1.5"/>
<circle cx="90.1" cy="220.4" r="1.5"/>
<circle cx="127.8" cy="212.8" r="1.5"/>
<circle cx="93.8" cy="226.0" r="1.5"/>
<circle cx="88.4" cy="221.9" r="1.5"/>
<circle cx="127.5" cy="211.8" r="1.5"/>
<circle cx="188.7" cy="145.6" r="1.5"/>
<circle cx="127.0" cy="215.0" r="1.5"/>
<circle cx="97.0" cy="222.9" r="1.5"/>
<circle cx="194.5" cy="145.8" r="1.5"/>
<circle cx="213.2" cy="150.9" r="1.5"/>
</g>
<line x1="23.40" y1="308.40" x2="296.40" y2="36.50" stroke="#ff0000" stroke-width="1.0" stroke-dasharray="0.85,0.9"/>
<polyline points="23.40,206.44 47.29,203.04 57.52,-65.46" fill="none" stroke="#000" stroke-width="0.9" stroke-linejoin="miter"/>
<polyline points="23.40,240.42 40.46,240.42 57.52,223.43 78.00,162.25 108.71,-65.46" fill="none" stroke="#000" stroke-width="0.9" stroke-linejoin="miter"/>
<polyline points="194.03,308.40 194.03,281.21 398.77,206.44" fill="none" stroke="#000" stroke-width="0.9" stroke-linejoin="miter"/>
<polyline points="23.40,267.62 43.88,267.62 57.52,254.02 71.17,233.63 200.85,-65.46" fill="none" stroke="#000" stroke-width="0.9" stroke-linejoin="miter"/>
<polyline points="105.30,308.40 105.30,288.01 200.85,220.03 398.77,138.46" fill="none" stroke="#000" stroke-width="0.9" stroke-linejoin="miter"/>
<polyline points="23.40,274.41 43.88,274.41 118.95,192.84 214.50,50.09 316.88,-65.46" fill="none" stroke="#000" stroke-width="0.9" stroke-linejoin="miter"/>
<polyline points="57.52,308.40 57.52,288.01 139.43,209.84 286.16,104.47 398.77,2.51" fill="none" stroke="#000" stroke-width="0.9" stroke-linejoin="miter"/>
</g>
<rect x="23.4" y="36.5" width="273.0" height="271.9" fill="none" stroke="#2a2a2a" stroke-width="0.75"/>
<line x1="23.40" y1="308.4" x2="23.40" y2="310.0" stroke="#000" stroke-width="0.5"/>
<text x="23.40" y="316.10" font-size="5.75" class="s" text-anchor="middle">0</text>
<line x1="23.4" y1="308.40" x2="21.799999999999997" y2="308.40" stroke="#000" stroke-width="0.5"/>
<text x="19.799999999999997" y="310.15" font-size="5.75" class="s" text-anchor="end">0</text>
<line x1="57.52" y1="308.4" x2="57.52" y2="310.0" stroke="#000" stroke-width="0.5"/>
<text x="57.52" y="316.10" font-size="5.75" class="s" text-anchor="middle">50</text>
<line x1="23.4" y1="274.41" x2="21.799999999999997" y2="274.41" stroke="#000" stroke-width="0.5"/>
<text x="19.799999999999997" y="276.16" font-size="5.75" class="s" text-anchor="end">50</text>
<line x1="91.65" y1="308.4" x2="91.65" y2="310.0" stroke="#000" stroke-width="0.5"/>
<text x="91.65" y="316.10" font-size="5.75" class="s" text-anchor="middle">100</text>
<line x1="23.4" y1="240.42" x2="21.799999999999997" y2="240.42" stroke="#000" stroke-width="0.5"/>
<text x="19.799999999999997" y="242.17" font-size="5.75" class="s" text-anchor="end">100</text>
<line x1="125.78" y1="308.4" x2="125.78" y2="310.0" stroke="#000" stroke-width="0.5"/>
<text x="125.78" y="316.10" font-size="5.75" class="s" text-anchor="middle">150</text>
<line x1="23.4" y1="206.44" x2="21.799999999999997" y2="206.44" stroke="#000" stroke-width="0.5"/>
<text x="19.799999999999997" y="208.19" font-size="5.75" class="s" text-anchor="end">150</text>
<line x1="159.90" y1="308.4" x2="159.90" y2="310.0" stroke="#000" stroke-width="0.5"/>
<text x="159.90" y="316.10" font-size="5.75" class="s" text-anchor="middle">200</text>
<line x1="23.4" y1="172.45" x2="21.799999999999997" y2="172.45" stroke="#000" stroke-width="0.5"/>
<text x="19.799999999999997" y="174.20" font-size="5.75" class="s" text-anchor="end">200</text>
<line x1="194.03" y1="308.4" x2="194.03" y2="310.0" stroke="#000" stroke-width="0.5"/>
<text x="194.03" y="316.10" font-size="5.75" class="s" text-anchor="middle">250</text>
<line x1="23.4" y1="138.46" x2="21.799999999999997" y2="138.46" stroke="#000" stroke-width="0.5"/>
<text x="19.799999999999997" y="140.21" font-size="5.75" class="s" text-anchor="end">250</text>
<line x1="228.15" y1="308.4" x2="228.15" y2="310.0" stroke="#000" stroke-width="0.5"/>
<text x="228.15" y="316.10" font-size="5.75" class="s" text-anchor="middle">300</text>
<line x1="23.4" y1="104.47" x2="21.799999999999997" y2="104.47" stroke="#000" stroke-width="0.5"/>
<text x="19.799999999999997" y="106.22" font-size="5.75" class="s" text-anchor="end">300</text>
<line x1="262.27" y1="308.4" x2="262.27" y2="310.0" stroke="#000" stroke-width="0.5"/>
<text x="262.27" y="316.10" font-size="5.75" class="s" text-anchor="middle">350</text>
<line x1="23.4" y1="70.49" x2="21.799999999999997" y2="70.49" stroke="#000" stroke-width="0.5"/>
<text x="19.799999999999997" y="72.24" font-size="5.75" class="s" text-anchor="end">350</text>
<line x1="296.40" y1="308.4" x2="296.40" y2="310.0" stroke="#000" stroke-width="0.5"/>
<text x="296.40" y="316.10" font-size="5.75" class="s" text-anchor="middle">400</text>
<line x1="23.4" y1="36.50" x2="21.799999999999997" y2="36.50" stroke="#000" stroke-width="0.5"/>
<text x="19.799999999999997" y="38.25" font-size="5.75" class="s" text-anchor="end">400</text>
<text x="159.90" y="323.7" font-size="5.93" class="s" text-anchor="middle">Blood Glucometer Concentration [mg/dl]</text>
<text transform="translate(5.90,172.45) rotate(-90)" font-size="5.93" class="s" text-anchor="middle">NIGM Concentration [mg/dl]</text>
<text x="155.2" y="12.6" font-size="14.8" text-anchor="middle">Consensus Error Grid (Session 2)</text>
<text x="33.30" y="72.8" font-size="14.8">E</text>
<text x="68.00" y="74.2" font-size="14.8">D</text>
<text x="108.80" y="81.0" font-size="14.8">C</text>
<text x="150.20" y="90.6" font-size="14.8">B</text>
<text x="190.50" y="114.3" font-size="14.8">A</text>
<text x="216.50" y="136.7" font-size="14.8">A</text>
<text x="234.90" y="168.0" font-size="14.8">B</text>
<text x="256.20" y="222.5" font-size="14.8">C</text>
<text x="268.60" y="280.0" font-size="14.8">D</text>
<clipPath id="c1"><rect x="406.4" y="36.5" width="273.0" height="271.9"/></clipPath>
<g clip-path="url(#c1)">
<g fill="#0000ff">
<circle cx="490.8" cy="77.0" r="1.5"/>
<circle cx="501.8" cy="79.2" r="1.5"/>
<circle cx="518.4" cy="84.0" r="1.5"/>
<circle cx="529.6" cy="90.6" r="1.5"/>
<circle cx="574.6" cy="80.6" r="1.5"/>
<circle cx="582.6" cy="87.4" r="1.5"/>
<circle cx="582.6" cy="91.6" r="1.5"/>
<circle cx="582.4" cy="97.6" r="1.5"/>
<circle cx="602.2" cy="97.6" r="1.5"/>
<circle cx="616.0" cy="103.6" r="1.5"/>
<circle cx="620.2" cy="103.0" r="1.5"/>
<circle cx="517.2" cy="141.8" r="1.5"/>
<circle cx="515.2" cy="144.1" r="1.5"/>
<circle cx="530.5" cy="133.5" r="1.5"/>
<circle cx="533.2" cy="140.4" r="1.5"/>
<circle cx="536.4" cy="129.4" r="1.5"/>
<circle cx="538.5" cy="127.3" r="1.5"/>
<circle cx="537.9" cy="131.7" r="1.5"/>
<circle cx="541.0" cy="133.5" r="1.5"/>
<circle cx="541.6" cy="140.4" r="1.5"/>
<circle cx="543.5" cy="141.2" r="1.5"/>
<circle cx="546.9" cy="137.5" r="1.5"/>
<circle cx="541.0" cy="144.4" r="1.5"/>
<circle cx="556.5" cy="119.3" r="1.5"/>
<circle cx="555.9" cy="125.5" r="1.5"/>
<circle cx="559.0" cy="124.2" r="1.5"/>
<circle cx="555.0" cy="129.8" r="1.5"/>
<circle cx="556.3" cy="132.5" r="1.5"/>
<circle cx="556.8" cy="134.5" r="1.5"/>
<circle cx="560.5" cy="129.2" r="1.5"/>
<circle cx="564.0" cy="128.0" r="1.5"/>
<circle cx="564.0" cy="134.8" r="1.5"/>
<circle cx="567.1" cy="130.4" r="1.5"/>
<circle cx="568.0" cy="131.7" r="1.5"/>
<circle cx="570.2" cy="132.3" r="1.5"/>
<circle cx="572.7" cy="116.2" r="1.5"/>
<circle cx="575.1" cy="129.2" r="1.5"/>
<circle cx="577.6" cy="133.5" r="1.5"/>
<circle cx="576.4" cy="135.4" r="1.5"/>
<circle cx="573.3" cy="137.0" r="1.5"/>
<circle cx="567.7" cy="141.0" r="1.5"/>
<circle cx="570.2" cy="140.4" r="1.5"/>
<circle cx="570.8" cy="142.2" r="1.5"/>
<circle cx="574.5" cy="141.0" r="1.5"/>
<circle cx="577.0" cy="140.4" r="1.5"/>
<circle cx="581.4" cy="131.3" r="1.5"/>
<circle cx="584.5" cy="137.3" r="1.5"/>
<circle cx="582.3" cy="138.8" r="1.5"/>
<circle cx="582.6" cy="141.6" r="1.5"/>
<circle cx="585.3" cy="142.8" r="1.5"/>
<circle cx="587.5" cy="134.2" r="1.5"/>
<circle cx="588.4" cy="132.3" r="1.5"/>
<circle cx="581.4" cy="144.4" r="1.5"/>
<circle cx="587.9" cy="118.4" r="1.5"/>
<circle cx="592.5" cy="111.0" r="1.5"/>
<circle cx="592.5" cy="121.8" r="1.5"/>
<circle cx="596.0" cy="126.1" r="1.5"/>
<circle cx="595.0" cy="128.0" r="1.5"/>
<circle cx="593.1" cy="136.0" r="1.5"/>
<circle cx="593.1" cy="138.2" r="1.5"/>
<circle cx="600.0" cy="122.4" r="1.5"/>
<circle cx="605.5" cy="118.0" r="1.5"/>
<circle cx="606.8" cy="115.2" r="1.5"/>
<circle cx="607.4" cy="118.0" r="1.5"/>
<circle cx="605.9" cy="120.9" r="1.5"/>
<circle cx="609.6" cy="126.3" r="1.5"/>
<circle cx="613.0" cy="124.6" r="1.5"/>
<circle cx="618.4" cy="110.2" r="1.5"/>
<circle cx="621.7" cy="107.2" r="1.5"/>
<circle cx="622.6" cy="111.8" r="1.5"/>
<circle cx="625.7" cy="111.0" r="1.5"/>
<circle cx="615.9" cy="114.3" r="1.5"/>
<circle cx="618.4" cy="116.2" r="1.5"/>
<circle cx="614.9" cy="135.4" r="1.5"/>
<circle cx="616.8" cy="134.8" r="1.5"/>
<circle cx="621.3" cy="134.8" r="1.5"/>
<circle cx="623.3" cy="138.8" r="1.5"/>
<circle cx="630.1" cy="128.6" r="1.5"/>
<circle cx="632.6" cy="131.1" r="1.5"/>
<circle cx="515.0" cy="146.0" r="1.5"/>
<circle cx="516.8" cy="148.1" r="1.5"/>
<circle cx="512.2" cy="150.6" r="1.5"/>
<circle cx="516.8" cy="150.6" r="1.5"/>
<circle cx="506.0" cy="153.9" r="1.5"/>
<circle cx="508.5" cy="153.4" r="1.5"/>
<circle cx="513.1" cy="154.9" r="1.5"/>
<circle cx="511.0" cy="156.2" r="1.5"/>
<circle cx="507.5" cy="157.4" r="1.5"/>
<circle cx="505.7" cy="158.7" r="1.5"/>
<circle cx="508.1" cy="160.9" r="1.5"/>
<circle cx="511.0" cy="161.8" r="1.5"/>
<circle cx="514.3" cy="160.5" r="1.5"/>
<circle cx="517.2" cy="157.8" r="1.5"/>
<circle cx="510.0" cy="163.6" r="1.5"/>
<circle cx="506.9" cy="165.5" r="1.5"/>
<circle cx="496.1" cy="164.6" r="1.5"/>
<circle cx="500.1" cy="164.8" r="1.5"/>
<circle cx="499.4" cy="167.3" r="1.5"/>
<circle cx="501.9" cy="167.9" r="1.5"/>
<circle cx="500.1" cy="168.6" r="1.5"/>
<circle cx="498.2" cy="172.3" r="1.5"/>
<circle cx="500.7" cy="174.8" r="1.5"/>
<circle cx="501.9" cy="175.4" r="1.5"/>
<circle cx="497.3" cy="179.1" r="1.5"/>
<circle cx="501.1" cy="182.2" r="1.5"/>
<circle cx="488.3" cy="173.3" r="1.5"/>
<circle cx="490.8" cy="174.5" r="1.5"/>
<circle cx="494.5" cy="175.0" r="1.5"/>
<circle cx="480.0" cy="174.4" r="1.5"/>
<circle cx="472.5" cy="183.5" r="1.5"/>
<circle cx="507.5" cy="170.4" r="1.5"/>
<circle cx="511.2" cy="168.6" r="1.5"/>
<circle cx="506.5" cy="172.9" r="1.5"/>
<circle cx="511.0" cy="173.5" r="1.5"/>
<circle cx="512.5" cy="174.8" r="1.5"/>
<circle cx="509.4" cy="177.3" r="1.5"/>
<circle cx="508.8" cy="180.4" r="1.5"/>
<circle cx="510.0" cy="179.1" r="1.5"/>
<circle cx="515.0" cy="172.3" r="1.5"/>
<circle cx="517.4" cy="174.2" r="1.5"/>
<circle cx="518.7" cy="177.9" r="1.5"/>
<circle cx="515.0" cy="180.4" r="1.5"/>
<circle cx="517.4" cy="182.2" r="1.5"/>
<circle cx="514.3" cy="182.8" r="1.5"/>
<circle cx="519.9" cy="182.8" r="1.5"/>
<circle cx="521.8" cy="184.1" r="1.5"/>
<circle cx="522.4" cy="174.2" r="1.5"/>
<circle cx="524.3" cy="171.1" r="1.5"/>
<circle cx="524.9" cy="174.8" r="1.5"/>
<circle cx="521.2" cy="176.0" r="1.5"/>
<circle cx="527.4" cy="178.5" r="1.5"/>
<circle cx="524.3" cy="180.4" r="1.5"/>
<circle cx="526.1" cy="182.2" r="1.5"/>
<circle cx="525.9" cy="150.2" r="1.5"/>
<circle cx="527.4" cy="151.8" r="1.5"/>
<circle cx="526.1" cy="159.9" r="1.5"/>
<circle cx="527.4" cy="161.1" r="1.5"/>
<circle cx="523.0" cy="164.2" r="1.5"/>
<circle cx="526.4" cy="164.8" r="1.5"/>
<circle cx="536.4" cy="147.2" r="1.5"/>
<circle cx="541.0" cy="146.9" r="1.5"/>
<circle cx="545.4" cy="146.5" r="1.5"/>
<circle cx="540.4" cy="150.6" r="1.5"/>
<circle cx="530.5" cy="154.3" r="1.5"/>
<circle cx="541.6" cy="153.7" r="1.5"/>
<circle cx="544.1" cy="154.3" r="1.5"/>
<circle cx="549.1" cy="151.8" r="1.5"/>
<circle cx="553.4" cy="153.7" r="1.5"/>
<circle cx="557.5" cy="148.5" r="1.5"/>
<circle cx="557.8" cy="153.4" r="1.5"/>
<circle cx="564.6" cy="146.9" r="1.5"/>
<circle cx="565.2" cy="150.0" r="1.5"/>
<circle cx="569.6" cy="148.7" r="1.5"/>
<circle cx="570.2" cy="153.1" r="1.5"/>
<circle cx="574.5" cy="153.7" r="1.5"/>
<circle cx="577.0" cy="146.9" r="1.5"/>
<circle cx="578.9" cy="145.6" r="1.5"/>
<circle cx="581.4" cy="146.2" r="1.5"/>
<circle cx="578.9" cy="150.0" r="1.5"/>
<circle cx="583.2" cy="148.7" r="1.5"/>
<circle cx="585.1" cy="150.0" r="1.5"/>
<circle cx="585.7" cy="146.2" r="1.5"/>
<circle cx="588.8" cy="151.2" r="1.5"/>
<circle cx="590.0" cy="154.3" r="1.5"/>
<circle cx="593.8" cy="152.4" r="1.5"/>
<circle cx="595.0" cy="146.9" r="1.5"/>
<circle cx="595.6" cy="149.3" r="1.5"/>
<circle cx="596.2" cy="154.9" r="1.5"/>
<circle cx="530.5" cy="159.9" r="1.5"/>
<circle cx="533.6" cy="161.1" r="1.5"/>
<circle cx="537.3" cy="159.9" r="1.5"/>
<circle cx="540.4" cy="156.2" r="1.5"/>
<circle cx="544.1" cy="159.9" r="1.5"/>
<circle cx="545.4" cy="161.1" r="1.5"/>
<circle cx="547.2" cy="158.7" r="1.5"/>
<circle cx="549.7" cy="156.2" r="1.5"/>
<circle cx="552.2" cy="158.0" r="1.5"/>
<circle cx="548.5" cy="162.4" r="1.5"/>
<circle cx="544.1" cy="164.2" r="1.5"/>
<circle cx="538.5" cy="164.2" r="1.5"/>
<circle cx="533.6" cy="164.8" r="1.5"/>
<circle cx="560.9" cy="156.2" r="1.5"/>
<circle cx="568.3" cy="158.7" r="1.5"/>
<circle cx="572.0" cy="161.8" r="1.5"/>
<circle cx="575.1" cy="156.8" r="1.5"/>
<circle cx="577.6" cy="156.2" r="1.5"/>
<circle cx="575.8" cy="159.9" r="1.5"/>
<circle cx="578.2" cy="161.1" r="1.5"/>
<circle cx="580.1" cy="158.0" r="1.5"/>
<circle cx="582.0" cy="156.8" r="1.5"/>
<circle cx="581.4" cy="161.8" r="1.5"/>
<circle cx="585.1" cy="156.8" r="1.5"/>
<circle cx="586.9" cy="157.4" r="1.5"/>
<circle cx="588.8" cy="159.9" r="1.5"/>
<circle cx="591.9" cy="159.3" r="1.5"/>
<circle cx="590.7" cy="154.9" r="1.5"/>
<circle cx="598.7" cy="159.3" r="1.5"/>
<circle cx="608.6" cy="153.1" r="1.5"/>
<circle cx="607.4" cy="163.6" r="1.5"/>
<circle cx="601.2" cy="164.2" r="1.5"/>
<circle cx="598.1" cy="164.2" r="1.5"/>
<circle cx="595.6" cy="163.6" r="1.5"/>
<circle cx="593.8" cy="165.5" r="1.5"/>
<circle cx="595.6" cy="166.7" r="1.5"/>
<circle cx="591.3" cy="163.6" r="1.5"/>
<circle cx="588.8" cy="164.8" r="1.5"/>
<circle cx="585.1" cy="163.6" r="1.5"/>
<circle cx="586.3" cy="165.5" r="1.5"/>
<circle cx="583.2" cy="168.6" r="1.5"/>
<circle cx="560.5" cy="163.6" r="1.5"/>
<circle cx="564.0" cy="164.2" r="1.5"/>
<circle cx="561.5" cy="167.9" r="1.5"/>
<circle cx="559.0" cy="167.3" r="1.5"/>
<circle cx="557.2" cy="169.2" r="1.5"/>
<circle cx="552.2" cy="164.8" r="1.5"/>
<circle cx="529.9" cy="165.5" r="1.5"/>
<circle cx="532.3" cy="167.9" r="1.5"/>
<circle cx="534.8" cy="169.8" r="1.5"/>
<circle cx="537.3" cy="171.1" r="1.5"/>
<circle cx="531.1" cy="174.2" r="1.5"/>
<circle cx="529.2" cy="171.7" r="1.5"/>
<circle cx="540.4" cy="173.5" r="1.5"/>
<circle cx="543.5" cy="169.2" r="1.5"/>
<circle cx="546.6" cy="171.7" r="1.5"/>
<circle cx="546.6" cy="174.8" r="1.5"/>
<circle cx="551.0" cy="174.2" r="1.5"/>
<circle cx="552.8" cy="170.4" r="1.5"/>
<circle cx="555.9" cy="172.3" r="1.5"/>
<circle cx="554.7" cy="174.2" r="1.5"/>
<circle cx="563.4" cy="171.1" r="1.5"/>
<circle cx="564.6" cy="172.9" r="1.5"/>
<circle cx="562.7" cy="169.8" r="1.5"/>
<circle cx="573.3" cy="167.3" r="1.5"/>
<circle cx="573.9" cy="171.1" r="1.5"/>
<circle cx="573.3" cy="174.8" r="1.5"/>
<circle cx="570.2" cy="177.9" r="1.5"/>
<circle cx="567.1" cy="175.4" r="1.5"/>
<circle cx="603.1" cy="168.6" r="1.5"/>
<circle cx="602.2" cy="171.1" r="1.5"/>
<circle cx="596.9" cy="172.3" r="1.5"/>
<circle cx="584.5" cy="175.4" r="1.5"/>
<circle cx="581.4" cy="178.5" r="1.5"/>
<circle cx="588.8" cy="176.6" r="1.5"/>
<circle cx="592.5" cy="177.9" r="1.5"/>
<circle cx="529.9" cy="177.9" r="1.5"/>
<circle cx="532.3" cy="176.0" r="1.5"/>
<circle cx="534.2" cy="179.1" r="1.5"/>
<circle cx="536.7" cy="177.9" r="1.5"/>
<circle cx="538.5" cy="175.4" r="1.5"/>
<circle cx="541.6" cy="177.3" r="1.5"/>
<circle cx="529.9" cy="181.0" r="1.5"/>
<circle cx="535.4" cy="182.2" r="1.5"/>
<circle cx="540.4" cy="181.0" r="1.5"/>
<circle cx="544.1" cy="183.5" r="1.5"/>
<circle cx="547.2" cy="182.8" r="1.5"/>
<circle cx="551.0" cy="176.6" r="1.5"/>
<circle cx="554.0" cy="177.9" r="1.5"/>
<circle cx="553.4" cy="181.6" r="1.5"/>
<circle cx="557.8" cy="181.6" r="1.5"/>
<circle cx="562.7" cy="178.5" r="1.5"/>
<circle cx="567.1" cy="180.4" r="1.5"/>
<circle cx="567.7" cy="182.8" r="1.5"/>
<circle cx="570.8" cy="178.5" r="1.5"/>
<circle cx="579.5" cy="182.2" r="1.5"/>
<circle cx="601.2" cy="180.4" r="1.5"/>
<circle cx="531.7" cy="183.5" r="1.5"/>
<circle cx="537.9" cy="184.1" r="1.5"/>
<circle cx="634.5" cy="147.7" r="1.5"/>
<circle cx="638.7" cy="165.5" r="1.5"/>
<circle cx="645.7" cy="168.2" r="1.5"/>
<circle cx="651.5" cy="175.7" r="1.5"/>
<circle cx="638.8" cy="180.6" r="1.5"/>
<circle cx="479.6" cy="188.7" r="1.5"/>
<circle cx="479.6" cy="191.0" r="1.5"/>
<circle cx="477.1" cy="194.3" r="1.5"/>
<circle cx="472.5" cy="197.4" r="1.5"/>
<circle cx="471.3" cy="199.9" r="1.5"/>
<circle cx="473.4" cy="201.1" r="1.5"/>
<circle cx="475.9" cy="200.5" r="1.5"/>
<circle cx="478.4" cy="201.8" r="1.5"/>
<circle cx="467.8" cy="199.9" r="1.5"/>
<circle cx="465.9" cy="203.6" r="1.5"/>
<circle cx="468.4" cy="204.8" r="1.5"/>
<circle cx="470.9" cy="204.2" r="1.5"/>
<circle cx="472.8" cy="205.5" r="1.5"/>
<circle cx="477.7" cy="207.9" r="1.5"/>
<circle cx="466.6" cy="210.4" r="1.5"/>
<circle cx="471.5" cy="213.5" r="1.5"/>
<circle cx="465.3" cy="214.8" r="1.5"/>
<circle cx="467.8" cy="215.4" r="1.5"/>
<circle cx="462.9" cy="218.5" r="1.5"/>
<circle cx="470.9" cy="219.1" r="1.5"/>
<circle cx="477.7" cy="214.8" r="1.5"/>
<circle cx="467.8" cy="223.5" r="1.5"/>
<circle cx="472.8" cy="222.2" r="1.5"/>
<circle cx="476.5" cy="222.2" r="1.5"/>
<circle cx="479.0" cy="222.8" r="1.5"/>
<circle cx="493.2" cy="187.5" r="1.5"/>
<circle cx="490.8" cy="190.6" r="1.5"/>
<circle cx="492.0" cy="191.8" r="1.5"/>
<circle cx="490.8" cy="195.6" r="1.5"/>
<circle cx="492.6" cy="196.8" r="1.5"/>
<circle cx="485.2" cy="197.4" r="1.5"/>
<circle cx="483.9" cy="201.1" r="1.5"/>
<circle cx="486.4" cy="202.4" r="1.5"/>
<circle cx="488.9" cy="201.1" r="1.5"/>
<circle cx="491.4" cy="199.9" r="1.5"/>
<circle cx="493.9" cy="198.7" r="1.5"/>
<circle cx="485.8" cy="204.8" r="1.5"/>
<circle cx="488.9" cy="204.8" r="1.5"/>
<circle cx="497.0" cy="193.1" r="1.5"/>
<circle cx="497.6" cy="190.0" r="1.5"/>
<circle cx="495.7" cy="201.1" r="1.5"/>
<circle cx="497.6" cy="203.6" r="1.5"/>
<circle cx="494.5" cy="205.5" r="1.5"/>
<circle cx="492.6" cy="207.9" r="1.5"/>
<circle cx="495.1" cy="208.6" r="1.5"/>
<circle cx="497.6" cy="207.3" r="1.5"/>
<circle cx="490.8" cy="210.4" r="1.5"/>
<circle cx="493.9" cy="211.7" r="1.5"/>
<circle cx="490.1" cy="207.3" r="1.5"/>
<circle cx="485.8" cy="212.9" r="1.5"/>
<circle cx="488.3" cy="214.2" r="1.5"/>
<circle cx="482.7" cy="216.6" r="1.5"/>
<circle cx="486.4" cy="217.3" r="1.5"/>
<circle cx="490.1" cy="216.6" r="1.5"/>
<circle cx="493.9" cy="216.0" r="1.5"/>
<circle cx="496.4" cy="214.2" r="1.5"/>
<circle cx="482.7" cy="219.1" r="1.5"/>
<circle cx="492.0" cy="219.1" r="1.5"/>
<circle cx="488.3" cy="222.2" r="1.5"/>
<circle cx="495.1" cy="221.0" r="1.5"/>
<circle cx="497.0" cy="218.5" r="1.5"/>
<circle cx="483.3" cy="223.5" r="1.5"/>
<circle cx="498.2" cy="186.2" r="1.5"/>
<circle cx="501.3" cy="188.1" r="1.5"/>
<circle cx="502.6" cy="190.0" r="1.5"/>
<circle cx="504.4" cy="193.1" r="1.5"/>
<circle cx="500.1" cy="196.8" r="1.5"/>
<circle cx="501.3" cy="199.9" r="1.5"/>
<circle cx="499.4" cy="202.4" r="1.5"/>
<circle cx="501.3" cy="203.6" r="1.5"/>
<circle cx="503.2" cy="204.2" r="1.5"/>
<circle cx="505.0" cy="202.4" r="1.5"/>
<circle cx="507.5" cy="201.1" r="1.5"/>
<circle cx="499.4" cy="205.5" r="1.5"/>
<circle cx="501.3" cy="207.3" r="1.5"/>
<circle cx="503.8" cy="206.7" r="1.5"/>
<circle cx="498.8" cy="209.2" r="1.5"/>
<circle cx="500.7" cy="210.4" r="1.5"/>
<circle cx="502.6" cy="209.2" r="1.5"/>
<circle cx="505.0" cy="208.6" r="1.5"/>
<circle cx="506.9" cy="204.8" r="1.5"/>
<circle cx="508.8" cy="206.7" r="1.5"/>
<circle cx="510.6" cy="204.2" r="1.5"/>
<circle cx="507.5" cy="209.8" r="1.5"/>
<circle cx="510.0" cy="210.4" r="1.5"/>
<circle cx="499.4" cy="212.9" r="1.5"/>
<circle cx="501.9" cy="214.2" r="1.5"/>
<circle cx="504.4" cy="212.3" r="1.5"/>
<circle cx="506.3" cy="214.2" r="1.5"/>
<circle cx="508.8" cy="212.9" r="1.5"/>
<circle cx="511.2" cy="214.2" r="1.5"/>
<circle cx="500.1" cy="216.6" r="1.5"/>
<circle cx="503.2" cy="217.3" r="1.5"/>
<circle cx="506.9" cy="217.9" r="1.5"/>
<circle cx="510.0" cy="216.6" r="1.5"/>
<circle cx="499.4" cy="219.1" r="1.5"/>
<circle cx="502.6" cy="221.0" r="1.5"/>
<circle cx="505.7" cy="220.4" r="1.5"/>
<circle cx="508.8" cy="221.0" r="1.5"/>
<circle cx="511.2" cy="219.1" r="1.5"/>
<circle cx="498.2" cy="222.8" r="1.5"/>
<circle cx="501.3" cy="223.5" r="1.5"/>
<circle cx="505.0" cy="222.8" r="1.5"/>
<circle cx="508.8" cy="186.9" r="1.5"/>
<circle cx="511.0" cy="188.7" r="1.5"/>
<circle cx="511.9" cy="194.3" r="1.5"/>
<circle cx="510.0" cy="196.8" r="1.5"/>
<circle cx="511.2" cy="191.2" r="1.5"/>
<circle cx="513.7" cy="185.6" r="1.5"/>
<circle cx="516.2" cy="186.2" r="1.5"/>
<circle cx="519.3" cy="186.9" r="1.5"/>
<circle cx="522.4" cy="187.5" r="1.5"/>
<circle cx="525.5" cy="186.2" r="1.5"/>
<circle cx="527.4" cy="188.7" r="1.5"/>
<circle cx="517.4" cy="190.0" r="1.5"/>
<circle cx="520.5" cy="191.2" r="1.5"/>
<circle cx="523.6" cy="190.6" r="1.5"/>
<circle cx="515.0" cy="193.7" r="1.5"/>
<circle cx="518.1" cy="194.9" r="1.5"/>
<circle cx="521.2" cy="194.3" r="1.5"/>
<circle cx="524.3" cy="195.6" r="1.5"/>
<circle cx="527.4" cy="193.7" r="1.5"/>
<circle cx="513.1" cy="198.7" r="1.5"/>
<circle cx="516.2" cy="199.3" r="1.5"/>
<circle cx="519.3" cy="198.0" r="1.5"/>
<circle cx="522.4" cy="198.7" r="1.5"/>
<circle cx="524.9" cy="200.5" r="1.5"/>
<circle cx="527.4" cy="199.3" r="1.5"/>
<circle cx="514.3" cy="202.4" r="1.5"/>
<circle cx="517.4" cy="203.6" r="1.5"/>
<circle cx="520.5" cy="202.4" r="1.5"/>
<circle cx="523.6" cy="203.6" r="1.5"/>
<circle cx="526.8" cy="204.8" r="1.5"/>
<circle cx="513.1" cy="206.1" r="1.5"/>
<circle cx="516.2" cy="207.3" r="1.5"/>
<circle cx="518.7" cy="206.7" r="1.5"/>
<circle cx="521.8" cy="207.9" r="1.5"/>
<circle cx="513.7" cy="209.8" r="1.5"/>
<circle cx="516.8" cy="211.1" r="1.5"/>
<circle cx="519.9" cy="209.8" r="1.5"/>
<circle cx="512.5" cy="212.9" r="1.5"/>
<circle cx="515.6" cy="214.2" r="1.5"/>
<circle cx="518.7" cy="213.5" r="1.5"/>
<circle cx="514.3" cy="216.6" r="1.5"/>
<circle cx="517.4" cy="217.3" r="1.5"/>
<circle cx="520.5" cy="216.0" r="1.5"/>
<circle cx="519.3" cy="219.1" r="1.5"/>
<circle cx="516.2" cy="220.4" r="1.5"/>
<circle cx="522.4" cy="218.5" r="1.5"/>
<circle cx="513.1" cy="221.6" r="1.5"/>
<circle cx="517.4" cy="222.8" r="1.5"/>
<circle cx="521.8" cy="222.2" r="1.5"/>
<circle cx="524.9" cy="211.1" r="1.5"/>
<circle cx="527.4" cy="216.0" r="1.5"/>
<circle cx="525.5" cy="219.1" r="1.5"/>
<circle cx="527.4" cy="221.0" r="1.5"/>
<circle cx="522.4" cy="213.5" r="1.5"/>
<circle cx="533.6" cy="186.5" r="1.5"/>
<circle cx="537.3" cy="187.5" r="1.5"/>
<circle cx="538.5" cy="186.0" r="1.5"/>
<circle cx="544.8" cy="185.4" r="1.5"/>
<circle cx="551.0" cy="185.6" r="1.5"/>
<circle cx="555.9" cy="186.2" r="1.5"/>
<circle cx="559.6" cy="187.5" r="1.5"/>
<circle cx="560.3" cy="188.7" r="1.5"/>
<circle cx="564.0" cy="190.0" r="1.5"/>
<circle cx="565.8" cy="191.8" r="1.5"/>
<circle cx="564.6" cy="185.6" r="1.5"/>
<circle cx="570.2" cy="188.7" r="1.5"/>
<circle cx="573.3" cy="187.5" r="1.5"/>
<circle cx="575.8" cy="186.2" r="1.5"/>
<circle cx="573.9" cy="190.6" r="1.5"/>
<circle cx="572.7" cy="192.4" r="1.5"/>
<circle cx="578.9" cy="189.3" r="1.5"/>
<circle cx="581.4" cy="189.7" r="1.5"/>
<circle cx="582.3" cy="193.9" r="1.5"/>
<circle cx="594.4" cy="191.2" r="1.5"/>
<circle cx="592.5" cy="193.4" r="1.5"/>
<circle cx="530.5" cy="192.7" r="1.5"/>
<circle cx="533.0" cy="194.3" r="1.5"/>
<circle cx="535.4" cy="194.9" r="1.5"/>
<circle cx="539.8" cy="196.8" r="1.5"/>
<circle cx="543.5" cy="195.9" r="1.5"/>
<circle cx="547.2" cy="190.6" r="1.5"/>
<circle cx="549.1" cy="191.2" r="1.5"/>
<circle cx="549.1" cy="198.7" r="1.5"/>
<circle cx="554.3" cy="196.2" r="1.5"/>
<circle cx="555.0" cy="201.1" r="1.5"/>
<circle cx="560.0" cy="194.7" r="1.5"/>
<circle cx="562.1" cy="195.6" r="1.5"/>
<circle cx="565.2" cy="197.8" r="1.5"/>
<circle cx="570.2" cy="194.9" r="1.5"/>
<circle cx="573.3" cy="196.8" r="1.5"/>
<circle cx="572.7" cy="198.0" r="1.5"/>
<circle cx="578.6" cy="198.4" r="1.5"/>
<circle cx="581.4" cy="199.6" r="1.5"/>
<circle cx="583.2" cy="201.1" r="1.5"/>
<circle cx="584.8" cy="203.6" r="1.5"/>
<circle cx="589.8" cy="207.6" r="1.5"/>
<circle cx="579.5" cy="208.6" r="1.5"/>
<circle cx="578.6" cy="209.8" r="1.5"/>
<circle cx="584.1" cy="213.8" r="1.5"/>
<circle cx="579.9" cy="218.5" r="1.5"/>
<circle cx="600.8" cy="210.4" r="1.5"/>
<circle cx="530.5" cy="199.3" r="1.5"/>
<circle cx="531.7" cy="202.4" r="1.5"/>
<circle cx="538.5" cy="200.5" r="1.5"/>
<circle cx="541.0" cy="198.7" r="1.5"/>
<circle cx="541.6" cy="201.1" r="1.5"/>
<circle cx="541.0" cy="203.6" r="1.5"/>
<circle cx="548.8" cy="203.6" r="1.5"/>
<circle cx="550.3" cy="204.8" r="1.5"/>
<circle cx="534.8" cy="207.3" r="1.5"/>
<circle cx="533.6" cy="208.6" r="1.5"/>
<circle cx="539.8" cy="207.9" r="1.5"/>
<circle cx="529.9" cy="207.3" r="1.5"/>
<circle cx="529.2" cy="210.4" r="1.5"/>
<circle cx="531.7" cy="211.7" r="1.5"/>
<circle cx="531.1" cy="214.8" r="1.5"/>
<circle cx="533.6" cy="215.4" r="1.5"/>
<circle cx="535.7" cy="212.9" r="1.5"/>
<circle cx="539.4" cy="213.5" r="1.5"/>
<circle cx="534.0" cy="218.5" r="1.5"/>
<circle cx="546.4" cy="209.2" r="1.5"/>
<circle cx="545.4" cy="210.4" r="1.5"/>
<circle cx="550.1" cy="211.3" r="1.5"/>
<circle cx="552.2" cy="215.0" r="1.5"/>
<circle cx="557.8" cy="213.8" r="1.5"/>
<circle cx="562.1" cy="215.4" r="1.5"/>
<circle cx="560.5" cy="218.5" r="1.5"/>
<circle cx="549.3" cy="223.7" r="1.5"/>
<circle cx="535.4" cy="224.4" r="1.5"/>
<circle cx="557.8" cy="224.4" r="1.5"/>
<circle cx="575.8" cy="224.4" r="1.5"/>
<circle cx="617.1" cy="215.2" r="1.5"/>
<circle cx="615.1" cy="221.8" r="1.5"/>
<circle cx="626.7" cy="220.6" r="1.5"/>
<circle cx="459.1" cy="227.7" r="1.5"/>
<circle cx="464.1" cy="228.1" r="1.5"/>
<circle cx="465.9" cy="227.5" r="1.5"/>
<circle cx="467.8" cy="225.6" r="1.5"/>
<circle cx="462.2" cy="233.1" r="1.5"/>
<circle cx="466.6" cy="234.3" r="1.5"/>
<circle cx="471.5" cy="226.2" r="1.5"/>
<circle cx="474.0" cy="227.5" r="1.5"/>
<circle cx="476.5" cy="226.2" r="1.5"/>
<circle cx="479.0" cy="228.1" r="1.5"/>
<circle cx="481.5" cy="226.9" r="1.5"/>
<circle cx="483.9" cy="226.2" r="1.5"/>
<circle cx="486.4" cy="227.5" r="1.5"/>
<circle cx="488.3" cy="225.6" r="1.5"/>
<circle cx="476.5" cy="230.0" r="1.5"/>
<circle cx="474.0" cy="231.8" r="1.5"/>
<circle cx="472.2" cy="233.7" r="1.5"/>
<circle cx="474.6" cy="234.3" r="1.5"/>
<circle cx="477.1" cy="233.1" r="1.5"/>
<circle cx="479.6" cy="231.8" r="1.5"/>
<circle cx="482.1" cy="230.6" r="1.5"/>
<circle cx="484.6" cy="230.0" r="1.5"/>
<circle cx="469.7" cy="236.2" r="1.5"/>
<circle cx="472.8" cy="236.8" r="1.5"/>
<circle cx="475.3" cy="236.2" r="1.5"/>
<circle cx="477.7" cy="235.6" r="1.5"/>
<circle cx="480.2" cy="234.9" r="1.5"/>
<circle cx="482.7" cy="233.7" r="1.5"/>
<circle cx="485.8" cy="233.1" r="1.5"/>
<circle cx="488.3" cy="230.6" r="1.5"/>
<circle cx="490.8" cy="228.7" r="1.5"/>
<circle cx="492.6" cy="226.9" r="1.5"/>
<circle cx="495.1" cy="226.2" r="1.5"/>
<circle cx="497.6" cy="225.6" r="1.5"/>
<circle cx="494.5" cy="229.3" r="1.5"/>
<circle cx="467.8" cy="238.7" r="1.5"/>
<circle cx="470.3" cy="239.3" r="1.5"/>
<circle cx="472.8" cy="239.9" r="1.5"/>
<circle cx="475.9" cy="238.7" r="1.5"/>
<circle cx="478.4" cy="238.0" r="1.5"/>
<circle cx="480.8" cy="236.8" r="1.5"/>
<circle cx="483.3" cy="236.8" r="1.5"/>
<circle cx="485.8" cy="236.2" r="1.5"/>
<circle cx="462.9" cy="239.9" r="1.5"/>
<circle cx="465.3" cy="241.1" r="1.5"/>
<circle cx="467.8" cy="241.8" r="1.5"/>
<circle cx="470.9" cy="242.4" r="1.5"/>
<circle cx="474.0" cy="241.1" r="1.5"/>
<circle cx="457.9" cy="243.6" r="1.5"/>
<circle cx="458.5" cy="245.5" r="1.5"/>
<circle cx="451.1" cy="244.8" r="1.5"/>
<circle cx="453.6" cy="248.6" r="1.5"/>
<circle cx="454.8" cy="250.4" r="1.5"/>
<circle cx="457.3" cy="249.8" r="1.5"/>
<circle cx="459.8" cy="249.2" r="1.5"/>
<circle cx="462.2" cy="249.2" r="1.5"/>
<circle cx="463.5" cy="247.9" r="1.5"/>
<circle cx="465.3" cy="244.8" r="1.5"/>
<circle cx="469.7" cy="246.7" r="1.5"/>
<circle cx="472.2" cy="247.3" r="1.5"/>
<circle cx="482.1" cy="241.1" r="1.5"/>
<circle cx="482.7" cy="242.4" r="1.5"/>
<circle cx="479.0" cy="240.5" r="1.5"/>
<circle cx="488.9" cy="235.6" r="1.5"/>
<circle cx="490.8" cy="234.3" r="1.5"/>
<circle cx="490.1" cy="240.5" r="1.5"/>
<circle cx="491.4" cy="239.9" r="1.5"/>
<circle cx="493.2" cy="234.9" r="1.5"/>
<circle cx="495.7" cy="236.2" r="1.5"/>
<circle cx="497.6" cy="236.8" r="1.5"/>
<circle cx="498.8" cy="233.1" r="1.5"/>
<circle cx="497.0" cy="231.8" r="1.5"/>
<circle cx="500.1" cy="230.0" r="1.5"/>
<circle cx="502.6" cy="228.7" r="1.5"/>
<circle cx="504.4" cy="227.5" r="1.5"/>
<circle cx="506.9" cy="225.6" r="1.5"/>
<circle cx="506.3" cy="231.2" r="1.5"/>
<circle cx="509.4" cy="230.0" r="1.5"/>
<circle cx="506.3" cy="236.2" r="1.5"/>
<circle cx="502.6" cy="239.3" r="1.5"/>
<circle cx="501.3" cy="240.5" r="1.5"/>
<circle cx="494.5" cy="243.0" r="1.5"/>
<circle cx="495.7" cy="243.6" r="1.5"/>
<circle cx="492.0" cy="246.7" r="1.5"/>
<circle cx="485.2" cy="247.3" r="1.5"/>
<circle cx="486.7" cy="249.2" r="1.5"/>
<circle cx="483.3" cy="251.7" r="1.5"/>
<circle cx="497.6" cy="251.1" r="1.5"/>
<circle cx="497.8" cy="253.3" r="1.5"/>
<circle cx="501.1" cy="253.8" r="1.5"/>
<circle cx="492.4" cy="260.0" r="1.5"/>
<circle cx="469.3" cy="254.4" r="1.5"/>
<circle cx="470.9" cy="257.9" r="1.5"/>
<circle cx="461.0" cy="257.3" r="1.5"/>
<circle cx="461.4" cy="262.8" r="1.5"/>
<circle cx="511.2" cy="225.6" r="1.5"/>
<circle cx="513.7" cy="231.8" r="1.5"/>
<circle cx="515.6" cy="238.7" r="1.5"/>
<circle cx="518.9" cy="230.0" r="1.5"/>
<circle cx="519.9" cy="241.1" r="1.5"/>
<circle cx="523.0" cy="243.0" r="1.5"/>
<circle cx="523.6" cy="226.9" r="1.5"/>
<circle cx="516.2" cy="225.6" r="1.5"/>
<circle cx="529.9" cy="230.6" r="1.5"/>
<circle cx="564.2" cy="228.5" r="1.5"/>
<circle cx="571.2" cy="226.5" r="1.5"/>
<circle cx="584.7" cy="229.3" r="1.5"/>
<circle cx="613.0" cy="226.0" r="1.5"/>
<circle cx="485.5" cy="269.5" r="1.5"/>
<circle cx="496.4" cy="228.8" r="1.5"/>
<circle cx="482.8" cy="228.4" r="1.5"/>
<circle cx="528.1" cy="191.3" r="1.5"/>
<circle cx="504.9" cy="200.3" r="1.5"/>
<circle cx="568.6" cy="190.3" r="1.5"/>
<circle cx="587.2" cy="161.3" r="1.5"/>
<circle cx="536.3" cy="173.3" r="1.5"/>
<circle cx="503.8" cy="170.3" r="1.5"/>
<circle cx="581.0" cy="165.6" r="1.5"/>
<circle cx="510.2" cy="223.6" r="1.5"/>
<circle cx="471.3" cy="245.1" r="1.5"/>
<circle cx="544.5" cy="175.3" r="1.5"/>
<circle cx="494.8" cy="218.0" r="1.5"/>
<circle cx="572.5" cy="139.5" r="1.5"/>
<circle cx="485.6" cy="208.6" r="1.5"/>
<circle cx="508.5" cy="227.7" r="1.5"/>
<circle cx="527.6" cy="173.2" r="1.5"/>
<circle cx="527.8" cy="212.2" r="1.5"/>
<circle cx="508.5" cy="192.3" r="1.5"/>
<circle cx="593.9" cy="157.0" r="1.5"/>
<circle cx="497.9" cy="239.1" r="1.5"/>
<circle cx="546.7" cy="153.1" r="1.5"/>
<circle cx="527.8" cy="186.7" r="1.5"/>
<circle cx="529.3" cy="168.3" r="1.5"/>
<circle cx="486.7" cy="224.0" r="1.5"/>
<circle cx="470.6" cy="207.1" r="1.5"/>
<circle cx="518.0" cy="192.4" r="1.5"/>
<circle cx="530.5" cy="186.4" r="1.5"/>
<circle cx="583.4" cy="154.5" r="1.5"/>
<circle cx="537.8" cy="209.7" r="1.5"/>
<circle cx="578.6" cy="139.1" r="1.5"/>
<circle cx="492.7" cy="232.4" r="1.5"/>
<circle cx="527.0" cy="202.2" r="1.5"/>
<circle cx="563.8" cy="193.6" r="1.5"/>
<circle cx="498.6" cy="227.6" r="1.5"/>
<circle cx="512.6" cy="227.3" r="1.5"/>
<circle cx="481.7" cy="221.8" r="1.5"/>
<circle cx="511.2" cy="159.3" r="1.5"/>
<circle cx="530.7" cy="205.0" r="1.5"/>
<circle cx="465.4" cy="236.2" r="1.5"/>
<circle cx="485.9" cy="221.3" r="1.5"/>
<circle cx="570.4" cy="174.8" r="1.5"/>
<circle cx="584.8" cy="159.2" r="1.5"/>
<circle cx="596.4" cy="160.7" r="1.5"/>
<circle cx="505.2" cy="197.8" r="1.5"/>
<circle cx="519.0" cy="200.2" r="1.5"/>
<circle cx="543.5" cy="180.8" r="1.5"/>
<circle cx="540.6" cy="185.2" r="1.5"/>
<circle cx="588.2" cy="148.6" r="1.5"/>
<circle cx="489.4" cy="219.6" r="1.5"/>
<circle cx="475.8" cy="233.5" r="1.5"/>
<circle cx="500.6" cy="201.6" r="1.5"/>
<circle cx="503.1" cy="205.5" r="1.5"/>
<circle cx="501.2" cy="212.4" r="1.5"/>
<circle cx="520.1" cy="217.2" r="1.5"/>
<circle cx="501.0" cy="217.4" r="1.5"/>
<circle cx="500.5" cy="217.6" r="1.5"/>
<circle cx="501.0" cy="220.9" r="1.5"/>
<circle cx="510.8" cy="212.3" r="1.5"/>
<circle cx="480.9" cy="237.1" r="1.5"/>
<circle cx="510.4" cy="213.7" r="1.5"/>
<circle cx="478.1" cy="229.8" r="1.5"/>
<circle cx="504.8" cy="204.9" r="1.5"/>
<circle cx="468.4" cy="243.0" r="1.5"/>
<circle cx="482.8" cy="231.4" r="1.5"/>
<circle cx="468.4" cy="243.1" r="1.5"/>
<circle cx="498.7" cy="205.1" r="1.5"/>
<circle cx="507.8" cy="217.3" r="1.5"/>
<circle cx="473.0" cy="232.8" r="1.5"/>
<circle cx="478.0" cy="236.5" r="1.5"/>
<circle cx="480.0" cy="227.6" r="1.5"/>
<circle cx="477.1" cy="234.0" r="1.5"/>
<circle cx="479.9" cy="231.0" r="1.5"/>
<circle cx="518.9" cy="215.4" r="1.5"/>
<circle cx="481.2" cy="228.7" r="1.5"/>
<circle cx="516.3" cy="216.1" r="1.5"/>
<circle cx="477.5" cy="230.3" r="1.5"/>
<circle cx="509.7" cy="214.3" r="1.5"/>
<circle cx="509.9" cy="209.0" r="1.5"/>
<circle cx="476.0" cy="235.9" r="1.5"/>
<circle cx="498.4" cy="206.5" r="1.5"/>
<circle cx="516.5" cy="215.0" r="1.5"/>
<circle cx="479.9" cy="230.7" r="1.5"/>
<circle cx="500.0" cy="203.8" r="1.5"/>
<circle cx="512.0" cy="211.3" r="1.5"/>
<circle cx="471.8" cy="238.2" r="1.5"/>
<circle cx="498.4" cy="217.1" r="1.5"/>
<circle cx="479.3" cy="237.5" r="1.5"/>
<circle cx="479.7" cy="233.0" r="1.5"/>
<circle cx="514.1" cy="208.2" r="1.5"/>
<circle cx="509.0" cy="210.6" r="1.5"/>
<circle cx="497.8" cy="205.6" r="1.5"/>
<circle cx="499.8" cy="201.2" r="1.5"/>
<circle cx="503.8" cy="218.6" r="1.5"/>
<circle cx="501.3" cy="216.3" r="1.5"/>
</g>
<line x1="406.40" y1="308.40" x2="679.40" y2="36.50" stroke="#ff0000" stroke-width="1.0" stroke-dasharray="0.85,0.9"/>
<polyline points="406.40,206.44 430.29,203.04 440.52,-65.46" fill="none" stroke="#000" stroke-width="0.9" stroke-linejoin="miter"/>
<polyline points="406.40,240.42 423.46,240.42 440.52,223.43 461.00,162.25 491.71,-65.46" fill="none" stroke="#000" stroke-width="0.9" stroke-linejoin="miter"/>
<polyline points="577.02,308.40 577.02,281.21 781.77,206.44" fill="none" stroke="#000" stroke-width="0.9" stroke-linejoin="miter"/>
<polyline points="406.40,267.62 426.88,267.62 440.52,254.02 454.17,233.63 583.85,-65.46" fill="none" stroke="#000" stroke-width="0.9" stroke-linejoin="miter"/>
<polyline points="488.30,308.40 488.30,288.01 583.85,220.03 781.77,138.46" fill="none" stroke="#000" stroke-width="0.9" stroke-linejoin="miter"/>
<polyline points="406.40,274.41 426.88,274.41 501.95,192.84 597.50,50.09 699.88,-65.46" fill="none" stroke="#000" stroke-width="0.9" stroke-linejoin="miter"/>
<polyline points="440.52,308.40 440.52,288.01 522.42,209.84 669.16,104.47 781.77,2.51" fill="none" stroke="#000" stroke-width="0.9" stroke-linejoin="miter"/>
</g>
<rect x="406.4" y="36.5" width="273.0" height="271.9" fill="none" stroke="#2a2a2a" stroke-width="0.75"/>
<line x1="406.40" y1="308.4" x2="406.40" y2="310.0" stroke="#000" stroke-width="0.5"/>
<text x="406.40" y="316.10" font-size="5.75" class="s" text-anchor="middle">0</text>
<line x1="406.4" y1="308.40" x2="404.79999999999995" y2="308.40" stroke="#000" stroke-width="0.5"/>
<text x="402.79999999999995" y="310.15" font-size="5.75" class="s" text-anchor="end">0</text>
<line x1="440.52" y1="308.4" x2="440.52" y2="310.0" stroke="#000" stroke-width="0.5"/>
<text x="440.52" y="316.10" font-size="5.75" class="s" text-anchor="middle">50</text>
<line x1="406.4" y1="274.41" x2="404.79999999999995" y2="274.41" stroke="#000" stroke-width="0.5"/>
<text x="402.79999999999995" y="276.16" font-size="5.75" class="s" text-anchor="end">50</text>
<line x1="474.65" y1="308.4" x2="474.65" y2="310.0" stroke="#000" stroke-width="0.5"/>
<text x="474.65" y="316.10" font-size="5.75" class="s" text-anchor="middle">100</text>
<line x1="406.4" y1="240.42" x2="404.79999999999995" y2="240.42" stroke="#000" stroke-width="0.5"/>
<text x="402.79999999999995" y="242.17" font-size="5.75" class="s" text-anchor="end">100</text>
<line x1="508.77" y1="308.4" x2="508.77" y2="310.0" stroke="#000" stroke-width="0.5"/>
<text x="508.77" y="316.10" font-size="5.75" class="s" text-anchor="middle">150</text>
<line x1="406.4" y1="206.44" x2="404.79999999999995" y2="206.44" stroke="#000" stroke-width="0.5"/>
<text x="402.79999999999995" y="208.19" font-size="5.75" class="s" text-anchor="end">150</text>
<line x1="542.90" y1="308.4" x2="542.90" y2="310.0" stroke="#000" stroke-width="0.5"/>
<text x="542.90" y="316.10" font-size="5.75" class="s" text-anchor="middle">200</text>
<line x1="406.4" y1="172.45" x2="404.79999999999995" y2="172.45" stroke="#000" stroke-width="0.5"/>
<text x="402.79999999999995" y="174.20" font-size="5.75" class="s" text-anchor="end">200</text>
<line x1="577.02" y1="308.4" x2="577.02" y2="310.0" stroke="#000" stroke-width="0.5"/>
<text x="577.02" y="316.10" font-size="5.75" class="s" text-anchor="middle">250</text>
<line x1="406.4" y1="138.46" x2="404.79999999999995" y2="138.46" stroke="#000" stroke-width="0.5"/>
<text x="402.79999999999995" y="140.21" font-size="5.75" class="s" text-anchor="end">250</text>
<line x1="611.15" y1="308.4" x2="611.15" y2="310.0" stroke="#000" stroke-width="0.5"/>
<text x="611.15" y="316.10" font-size="5.75" class="s" text-anchor="middle">300</text>
<line x1="406.4" y1="104.47" x2="404.79999999999995" y2="104.47" stroke="#000" stroke-width="0.5"/>
<text x="402.79999999999995" y="106.22" font-size="5.75" class="s" text-anchor="end">300</text>
<line x1="645.27" y1="308.4" x2="645.27" y2="310.0" stroke="#000" stroke-width="0.5"/>
<text x="645.27" y="316.10" font-size="5.75" class="s" text-anchor="middle">350</text>
<line x1="406.4" y1="70.49" x2="404.79999999999995" y2="70.49" stroke="#000" stroke-width="0.5"/>
<text x="402.79999999999995" y="72.24" font-size="5.75" class="s" text-anchor="end">350</text>
<line x1="679.40" y1="308.4" x2="679.40" y2="310.0" stroke="#000" stroke-width="0.5"/>
<text x="679.40" y="316.10" font-size="5.75" class="s" text-anchor="middle">400</text>
<line x1="406.4" y1="36.50" x2="404.79999999999995" y2="36.50" stroke="#000" stroke-width="0.5"/>
<text x="402.79999999999995" y="38.25" font-size="5.75" class="s" text-anchor="end">400</text>
<text x="542.90" y="323.7" font-size="5.93" class="s" text-anchor="middle">Blood Glucometer Concentration [mg/dl]</text>
<text transform="translate(388.90,172.45) rotate(-90)" font-size="5.93" class="s" text-anchor="middle">NIGM Concentration [mg/dl]</text>
<text x="538.6" y="12.6" font-size="14.8" text-anchor="middle">Consensus Error Grid (Session 3)</text>
<text x="416.30" y="72.8" font-size="14.8">E</text>
<text x="451.00" y="74.2" font-size="14.8">D</text>
<text x="491.80" y="81.0" font-size="14.8">C</text>
<text x="533.20" y="90.6" font-size="14.8">B</text>
<text x="573.50" y="114.3" font-size="14.8">A</text>
<text x="599.50" y="136.7" font-size="14.8">A</text>
<text x="617.90" y="168.0" font-size="14.8">B</text>
<text x="639.20" y="222.5" font-size="14.8">C</text>
<text x="651.60" y="280.0" font-size="14.8">D</text>
</svg></body></html>
